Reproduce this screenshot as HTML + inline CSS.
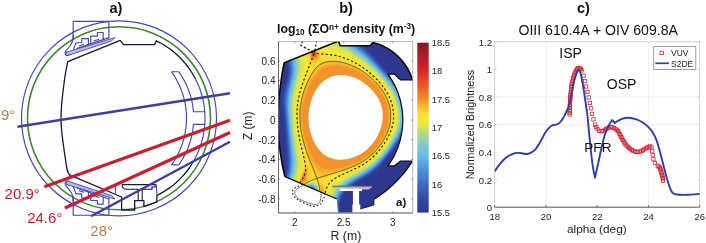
<!DOCTYPE html>
<html><head><meta charset="utf-8"><title>figure</title>
<style>
html,body{margin:0;padding:0;background:#fff;}
svg{display:block;filter:blur(0.3px);}
text{font-family:"Liberation Sans", Arial, sans-serif;}
</style></head><body>
<svg width="706" height="243" viewBox="0 0 706 243">
<rect width="706" height="243" fill="#fff"/>
<g id="panel-a">
<text x="116" y="13.2" font-size="14.5" font-weight="bold" text-anchor="middle" fill="#111">a)</text>
<circle cx="119.0" cy="118.3" r="97.5" fill="none" stroke="#4646b2" stroke-width="1.15"/>
<circle cx="119.0" cy="118.3" r="91.5" fill="none" stroke="#3b8a2e" stroke-width="1.6"/>
<path d="M73.2,40.0 L73.2,21.4 L108.9,21.4 L108.9,38.6" fill="none" stroke="#4646b2" stroke-width="1.15" stroke-linejoin="round"/>
<path d="M73.20,34.50C73.12,35.42 73.10,38.28 72.70,40.00C72.30,41.72 71.67,43.30 70.80,44.80C69.93,46.30 68.42,47.83 67.50,49.00C66.58,50.17 65.68,50.97 65.30,51.80C64.92,52.63 65.03,53.40 65.20,54.00C65.37,54.60 65.60,55.22 66.30,55.40C67.00,55.58 68.88,55.15 69.40,55.10" fill="none" stroke="#4646b2" stroke-width="1.15" stroke-linejoin="round"/>
<path d="M73.4,49.8 L76.0,42.7 L81.8,42.7 L81.8,38.6 L88.4,38.6 L88.4,44.6 L83.4,47.2" fill="none" stroke="#4646b2" stroke-width="1.15" stroke-linejoin="round"/>
<path d="M90.8,43.6 L90.8,36.1 L97.4,36.1 L97.4,32.5 L103.2,32.5 L103.2,39.6 L108.9,37.6" fill="none" stroke="#4646b2" stroke-width="1.15" stroke-linejoin="round"/>
<path d="M76.5,48.6 L88.4,44.6 L90.8,43.6 L103.2,39.6" fill="none" stroke="#4646b2" stroke-width="1.15" stroke-linejoin="round"/>
<path d="M79.0,46.0 L84.0,44.3" fill="none" stroke="#4646b2" stroke-width="1.15" stroke-linejoin="round"/>
<path d="M93.5,41.0 L99.0,39.2" fill="none" stroke="#4646b2" stroke-width="1.15" stroke-linejoin="round"/>
<path d="M73.2,196.6 L73.2,215.2 L108.9,215.2 L108.9,198.0" fill="none" stroke="#4646b2" stroke-width="1.15" stroke-linejoin="round"/>
<path d="M73.20,202.10C73.12,201.18 73.10,198.32 72.70,196.60C72.30,194.88 71.67,193.30 70.80,191.80C69.93,190.30 68.42,188.77 67.50,187.60C66.58,186.43 65.68,185.63 65.30,184.80C64.92,183.97 65.03,183.20 65.20,182.60C65.37,182.00 65.60,181.38 66.30,181.20C67.00,181.02 68.88,181.45 69.40,181.50" fill="none" stroke="#4646b2" stroke-width="1.15" stroke-linejoin="round"/>
<path d="M73.4,186.8 L76.0,193.9 L81.8,193.9 L81.8,198.0 L88.4,198.0 L88.4,192.0 L83.4,189.4" fill="none" stroke="#4646b2" stroke-width="1.15" stroke-linejoin="round"/>
<path d="M90.8,193.0 L90.8,200.5 L97.4,200.5 L97.4,204.1 L103.2,204.1 L103.2,197.0 L108.9,199.0" fill="none" stroke="#4646b2" stroke-width="1.15" stroke-linejoin="round"/>
<path d="M76.5,188.0 L88.4,192.0 L90.8,193.0 L103.2,197.0" fill="none" stroke="#4646b2" stroke-width="1.15" stroke-linejoin="round"/>
<path d="M79.0,190.6 L84.0,192.3" fill="none" stroke="#4646b2" stroke-width="1.15" stroke-linejoin="round"/>
<path d="M93.5,195.6 L99.0,197.4" fill="none" stroke="#4646b2" stroke-width="1.15" stroke-linejoin="round"/>
<path d="M65.6,52.4 L114.9,37.6 L111.6,41.0 L67.5,55.6Z" fill="#b9b9e6" stroke="#4646b2" stroke-width="0.9" stroke-linejoin="round"/>
<path d="M65.6,184.2 L114.9,199.0 L111.6,195.6 L67.5,181.0Z" fill="#b9b9e6" stroke="#4646b2" stroke-width="0.9" stroke-linejoin="round"/>
<path d="M171.5,71.7 L174.1,75.6 L176.4,79.5 L178.5,83.4 L180.2,87.2 L181.7,91.1 L183.0,95.0 L184.1,98.9 L185.0,102.8 L185.6,106.7 L186.1,110.5 L186.4,114.4 L186.5,118.3 L186.4,122.2 L186.1,126.1 L185.6,129.9 L185.0,133.8 L184.1,137.7 L183.0,141.6 L181.7,145.5 L180.2,149.4 L178.5,153.2 L176.4,157.1 L174.1,161.0 L171.5,164.9" fill="none" stroke="#4646b2" stroke-width="1.15"/>
<path d="M178.7,71.7 L179.9,73.4 L181.0,75.0 L182.0,76.7 L183.0,78.4 L183.9,80.0 L184.8,81.7 L185.7,83.4 L186.4,85.0 L187.2,86.7 L187.9,88.4 L188.5,90.0 L189.1,91.7 L189.7,93.4 L190.2,95.0 L190.7,96.7 L191.2,98.4 L191.6,100.0 L192.0,101.7 L192.3,103.4 L192.6,105.0 L192.9,106.7 L193.1,108.4 L193.3,110.0 L193.4,111.7 L205.3,111.7" fill="none" stroke="#4646b2" stroke-width="1.15"/>
<path d="M205.3,124.3 L193.5,124.3 L193.3,126.0 L193.1,127.7 L192.9,129.4 L192.7,131.1 L192.4,132.8 L192.1,134.4 L191.7,136.1 L191.3,137.8 L190.8,139.5 L190.3,141.2 L189.8,142.9 L189.2,144.6 L188.6,146.3 L188.0,148.0 L187.3,149.7 L186.5,151.4 L185.7,153.1 L184.9,154.8 L184.0,156.4 L183.1,158.1 L182.1,159.8 L181.0,161.5 L179.9,163.2 L178.7,164.9" fill="none" stroke="#4646b2" stroke-width="1.15"/>
<path d="M171.5,71.7 L178.7,71.7 M171.5,164.9 L178.7,164.9" fill="none" stroke="#4646b2" stroke-width="1.15"/>
<path d="M195.6,79.2 L197.2,82.6 L198.7,85.9 L200.0,89.3 L201.1,92.7 L202.1,96.0 L202.9,99.4 L203.6,102.8 L204.1,106.1 L204.5,109.5 L204.8,112.9 L205.0,116.2 L205.0,119.6 L204.9,123.0 L204.6,126.3 L204.2,129.7 L203.7,133.1 L203.1,136.4 L202.3,139.8 L201.3,143.2 L200.2,146.5 L199.0,149.9 L197.6,153.3 L196.0,156.6 L194.2,160.0" fill="none" stroke="#4646b2" stroke-width="1.15"/>
<path d="M195.6,79.2 L194.1,76.5 L192.5,73.7 L190.8,71.0 L188.9,68.2 L186.9,65.5 L184.6,62.7 L182.2,60.0 L179.6,57.3 L176.7,54.5 L173.5,51.8 L170.0,49.0 L166.0,46.3 L161.5,43.5 L156.3,40.8 L154.5,44.6 L123.6,44.6 L120.2,40.4 L67.7,61.7 L67.70,61.70C67.28,63.92 65.95,70.28 65.20,75.00C64.45,79.72 63.80,85.00 63.20,90.00C62.60,95.00 61.97,100.33 61.60,105.00C61.23,109.67 61.00,113.83 61.00,118.00C61.00,122.17 61.20,125.50 61.60,130.00C62.00,134.50 62.73,140.00 63.40,145.00C64.07,150.00 64.97,155.83 65.60,160.00C66.23,164.17 66.55,167.53 67.20,170.00C67.85,172.47 69.12,174.00 69.50,174.80 L121.6,197 L121.6,210 L134.7,210 L134.7,200.6 L143.9,200.6 L143.9,206.6 L156.9,202 L156.9,194.9 L158.1,194.9 L162.6,192.4 L166.6,189.9 L170.2,187.4 L173.4,184.9 L176.3,182.4 L179.0,179.9 L181.4,177.4 L183.7,175.0 L185.8,172.5 L187.7,170.0 L189.6,167.5 L191.2,165.0 L192.8,162.5 L194.2,160.0" fill="none" stroke="#16163c" stroke-width="1.3" stroke-linejoin="round"/>
<path d="M138.2,200.6 V189.3 H125 L122.3,187 V184.6 H155.2 V187 H152 V189.3 H142.2 V200.6" fill="none" stroke="#16163c" stroke-width="1.1"/>
<path d="M156.2,184 L156.9,194" fill="none" stroke="#4646b2" stroke-width="1.15"/>
<path d="M115.5,186 L115.5,193.5" fill="none" stroke="#4646b2" stroke-width="1.15"/>
<line x1="17.5" y1="126.8" x2="230" y2="93.3" stroke="#3e3e9e" stroke-width="2.4"/>
<line x1="91" y1="216.3" x2="230" y2="141.7" stroke="#3e3e9e" stroke-width="2.4"/>
<line x1="44.3" y1="186.7" x2="230" y2="120.3" stroke="#c5202f" stroke-width="3.3"/>
<line x1="64.9" y1="208" x2="230" y2="132.5" stroke="#c5202f" stroke-width="3.3"/>
<path d="M129.8,110.6 L131.2,108.6 M147.4,107.8 L148.8,105.6" stroke="#d03060" stroke-width="0.8" fill="none"/>
<text x="1" y="120" font-size="15" fill="#bd7a3a">9°</text>
<text x="4.6" y="199.4" font-size="15" fill="#c5202f">20.9°</text>
<text x="27.2" y="223.2" font-size="15" fill="#c5202f">24.6°</text>
<text x="90.3" y="235.5" font-size="15" fill="#bd7a3a">28°</text>
</g>
<g id="panel-b">
<text x="346" y="13.2" font-size="14.5" font-weight="bold" text-anchor="middle" fill="#111">b)</text>
<text x="277" y="33.2" font-size="12.3" font-weight="bold" fill="#111">log<tspan font-size="8.2" dy="2.2">10</tspan><tspan dy="-2.2"> (ΣO</tspan><tspan font-size="8.2" dy="-3.6">n+</tspan><tspan dy="3.6"> density (m</tspan><tspan font-size="8.2" dy="-3.8">-3</tspan><tspan dy="3.8">)</tspan></text>
<defs><clipPath id="vesclip"><path d="M285.0,176.7 L282.4,165.3 L280.3,153.0 L279.1,142.0 L278.3,130.0 L278.0,120.0 L278.3,108.0 L279.2,96.0 L280.6,84.0 L282.2,73.0 L284.2,62.8 L338.6,41.0 L340.2,45.7 L370.3,45.7 L372.8,42.4 L376.2,43.4 L379.6,44.6 L382.9,46.0 L386.1,47.6 L389.2,49.4 L392.1,51.4 L394.9,53.6 L397.6,56.0 L400.1,58.5 L402.5,61.2 L404.6,64.1 L406.6,67.0 L408.4,70.1 L410.0,73.3 L411.3,76.6 L412.5,80.0 L400.5,80.0 L394.6,74.2 L388.0,74.2 L390.3,77.6 L392.4,81.0 L394.4,84.6 L396.1,88.3 L397.7,92.1 L399.0,95.9 L400.2,99.8 L401.1,103.8 L401.8,107.8 L402.4,111.9 L402.7,115.9 L402.8,120.0 L402.7,124.1 L402.4,128.1 L401.8,132.2 L401.1,136.2 L400.2,140.2 L399.0,144.1 L397.7,147.9 L396.1,151.7 L394.4,155.4 L392.4,159.0 L390.3,162.4 L388.0,165.8 L394.6,165.8 L400.5,161.0 L412.5,161.0 L410.6,163.9 L408.7,166.7 L406.7,169.5 L404.6,172.2 L402.4,174.8 L400.1,177.4 L397.8,179.9 L395.4,182.4 L392.9,184.8 L390.4,187.1 L387.8,189.3 L385.1,191.5 L382.4,193.5 L379.6,195.5 L376.8,197.5 L373.9,199.3 L373.9,204.9 L360.3,208.9 L360.3,212.7 L338.0,212.7 L336.9,199.0Z"/></clipPath><clipPath id="axclip"><rect x="278.5" y="41.5" width="134.3" height="171.5"/></clipPath>
<filter id="bl1" x="-20%" y="-20%" width="140%" height="140%"><feGaussianBlur stdDeviation="0.7"/></filter>
<filter id="bl3" x="-50%" y="-50%" width="200%" height="200%"><feGaussianBlur stdDeviation="2.2"/></filter>
<filter id="bl2" x="-50%" y="-50%" width="200%" height="200%"><feGaussianBlur stdDeviation="1.4"/></filter>
</defs>
<g clip-path="url(#axclip)">
<g clip-path="url(#vesclip)">
<path d="M285.0,176.7 L282.4,165.3 L280.3,153.0 L279.1,142.0 L278.3,130.0 L278.0,120.0 L278.3,108.0 L279.2,96.0 L280.6,84.0 L282.2,73.0 L284.2,62.8 L338.6,41.0 L340.2,45.7 L370.3,45.7 L372.8,42.4 L376.2,43.4 L379.6,44.6 L382.9,46.0 L386.1,47.6 L389.2,49.4 L392.1,51.4 L394.9,53.6 L397.6,56.0 L400.1,58.5 L402.5,61.2 L404.6,64.1 L406.6,67.0 L408.4,70.1 L410.0,73.3 L411.3,76.6 L412.5,80.0 L400.5,80.0 L394.6,74.2 L388.0,74.2 L390.3,77.6 L392.4,81.0 L394.4,84.6 L396.1,88.3 L397.7,92.1 L399.0,95.9 L400.2,99.8 L401.1,103.8 L401.8,107.8 L402.4,111.9 L402.7,115.9 L402.8,120.0 L402.7,124.1 L402.4,128.1 L401.8,132.2 L401.1,136.2 L400.2,140.2 L399.0,144.1 L397.7,147.9 L396.1,151.7 L394.4,155.4 L392.4,159.0 L390.3,162.4 L388.0,165.8 L394.6,165.8 L400.5,161.0 L412.5,161.0 L410.6,163.9 L408.7,166.7 L406.7,169.5 L404.6,172.2 L402.4,174.8 L400.1,177.4 L397.8,179.9 L395.4,182.4 L392.9,184.8 L390.4,187.1 L387.8,189.3 L385.1,191.5 L382.4,193.5 L379.6,195.5 L376.8,197.5 L373.9,199.3 L373.9,204.9 L360.3,208.9 L360.3,212.7 L338.0,212.7 L336.9,199.0Z" fill="#2e388e"/>
<g filter="url(#bl1)">
<path d="M276.0,38.0 354.9,38.0 358.0,41.0 365.5,46.7 369.6,50.5 372.7,54.0 378.9,62.0 384.0,68.0 395.7,80.5 398.2,83.5 401.2,88.0 403.3,92.0 404.7,95.5 406.3,100.5 407.8,106.0 409.2,112.5 409.8,116.5 409.9,120.5 409.7,124.0 408.7,127.5 407.2,131.0 405.8,133.5 402.8,138.0 390.2,155.0 382.7,164.5 379.0,168.4 376.0,171.2 370.5,175.3 357.9,182.5 352.6,186.0 349.4,188.5 345.5,192.5 344.0,194.5 342.5,197.1 341.5,199.3 340.5,202.5 340.0,205.5 339.9,209.0 340.0,211.9 340.6,216.0 329.7,216.0 327.8,215.0 326.3,214.5 324.0,214.3 323.0,214.3 321.5,214.8 319.6,216.0 308.4,216.0 307.0,214.2 304.9,212.5 302.5,211.5 299.5,211.1 297.0,211.5 294.5,212.5 291.5,214.5 289.9,216.0 286.1,216.0 287.0,214.2 287.2,213.5 287.5,213.2 287.6,212.5 288.1,212.0 288.1,211.5 288.5,210.8 288.6,210.0 289.0,209.5 289.2,208.5 289.6,207.5 290.0,205.5 290.2,203.5 290.0,202.1 289.5,200.6 288.8,199.5 287.5,198.4 285.9,197.5 284.3,197.0 280.5,196.7 276.5,197.0 276.0,197.2 276.0,189.6 278.5,187.0 280.5,184.5 283.0,180.3 284.0,178.0 285.0,174.8 285.5,172.5 286.1,168.5 286.2,163.5 286.1,157.5 284.5,128.0 283.6,117.5 281.8,104.0 281.6,98.5 281.7,95.5 282.3,92.0 286.6,77.5 287.5,71.7 287.6,69.5 287.5,67.0 287.0,64.0 286.0,61.0 284.6,58.5 282.9,56.5 280.6,54.5 276.0,51.5ZM308.0,188.5 306.0,189.2 305.0,189.9 304.0,191.0 302.9,193.0 302.8,194.0 302.9,195.5 303.3,196.5 303.9,197.5 305.8,199.0 307.5,199.6 310.5,199.6 312.5,198.7 313.7,197.5 314.5,195.5 314.7,194.5 314.6,193.0 313.8,191.0 313.0,190.0 312.0,189.2 310.0,188.4ZM397.2,201.5 399.0,199.6 400.5,198.7 401.5,198.2 404.0,197.6 409.5,197.7 414.0,198.7 416.0,199.5 416.0,216.0 395.3,216.0 394.8,212.0 394.8,208.5 395.2,206.0 396.2,203.0Z" fill="#303f97" fill-rule="evenodd"/>
<path d="M276.0,38.0 293.4,38.0 295.5,38.4 297.9,38.0 353.9,38.0 357.4,41.5 365.6,48.0 369.5,51.6 372.5,55.0 382.4,67.0 395.3,81.0 398.1,84.5 400.4,88.0 402.2,91.5 404.1,96.0 405.8,101.5 407.5,108.0 408.6,113.5 409.0,118.0 409.0,121.5 408.5,125.0 407.4,128.5 405.7,132.0 403.6,135.5 400.9,139.5 390.3,154.0 384.0,162.1 379.0,167.6 375.3,171.0 371.0,174.2 367.0,176.7 357.0,182.4 352.0,185.7 348.0,189.0 344.8,192.5 343.1,195.0 341.7,197.5 340.7,200.0 339.9,203.0 339.5,206.0 339.5,209.0 339.7,212.0 340.3,216.0 329.8,216.0 328.0,215.0 326.5,214.4 324.0,214.1 323.0,214.2 321.5,214.7 319.4,216.0 308.7,216.0 307.0,213.7 305.0,212.2 302.5,211.2 300.0,210.8 298.0,211.0 295.0,212.0 292.0,213.9 289.7,216.0 286.1,216.0 286.5,215.5 288.5,211.0 290.0,206.0 290.2,203.0 290.0,201.6 289.6,200.5 288.9,199.5 287.5,198.2 286.1,197.5 284.5,197.0 280.5,196.5 276.0,197.1 276.0,189.9 280.2,185.5 282.0,183.0 283.4,180.5 284.5,178.0 285.5,175.0 286.2,172.0 286.7,168.5 286.9,164.5 286.9,159.5 285.3,131.5 284.5,121.0 282.7,105.0 282.4,99.0 282.6,95.5 283.3,91.5 286.5,80.4 287.5,76.0 288.1,72.5 288.2,69.5 288.1,66.5 287.5,63.5 286.6,61.0 285.2,58.5 283.6,56.5 281.9,55.0 279.8,53.5 276.0,51.2ZM307.0,188.6 305.0,189.7 303.5,191.5 302.7,193.5 302.7,195.0 302.9,196.0 303.4,197.0 304.2,198.0 306.0,199.2 307.5,199.7 310.0,199.8 311.3,199.5 313.0,198.4 313.8,197.5 314.4,196.5 314.8,194.5 314.7,193.0 314.5,192.0 313.3,190.0 311.5,188.7 309.5,188.2 308.0,188.3ZM397.6,201.5 399.0,200.0 400.5,199.0 402.0,198.4 404.5,197.8 407.0,197.7 409.5,197.9 413.5,198.7 416.0,199.6 416.0,216.0 395.4,216.0 394.9,211.0 395.2,207.0 396.3,203.5Z" fill="#32449d" fill-rule="evenodd"/>
<path d="M276.0,38.0 292.8,38.0 294.0,38.5 295.5,38.7 297.0,38.5 298.5,38.0 353.0,38.0 354.5,39.8 356.5,41.8 365.5,49.0 369.5,52.8 382.1,67.5 394.0,80.5 397.2,84.5 399.6,88.0 401.7,92.0 403.5,96.5 405.3,102.0 406.8,108.0 407.8,113.5 408.2,118.0 408.2,121.5 407.6,125.0 406.5,128.5 404.9,132.0 400.6,139.0 391.6,151.5 384.5,160.7 379.0,166.8 375.0,170.5 370.5,173.8 366.5,176.3 356.5,182.1 351.5,185.4 347.2,189.0 344.1,192.5 342.4,195.0 341.1,197.5 340.2,200.0 339.5,202.7 339.2,205.5 339.1,208.5 339.5,212.5 340.1,216.0 330.0,216.0 327.0,214.5 325.5,214.1 324.0,214.0 322.5,214.2 321.5,214.5 319.3,216.0 308.9,216.0 307.5,213.9 305.5,212.2 303.0,211.1 300.0,210.6 297.1,211.0 294.6,212.0 292.0,213.8 289.6,216.0 286.1,216.0 287.0,214.5 288.5,211.0 290.0,206.4 290.3,203.0 290.1,201.5 289.7,200.5 289.1,199.5 288.0,198.4 286.4,197.5 284.5,196.9 280.5,196.4 276.0,197.0 276.0,190.2 278.3,188.0 280.5,185.6 282.4,183.0 283.9,180.5 285.3,177.5 286.1,175.0 286.8,172.0 287.3,168.5 287.6,164.5 287.5,159.5 286.0,133.5 285.1,122.0 283.4,105.5 283.1,99.5 283.4,96.0 283.8,93.0 284.7,89.0 287.9,77.5 288.6,73.5 288.9,69.5 288.7,66.5 288.1,63.5 287.3,61.0 285.9,58.5 284.3,56.5 282.6,55.0 279.6,53.0 276.0,51.0ZM306.5,188.6 304.5,190.0 303.0,192.0 302.6,193.0 302.5,194.5 303.0,196.5 303.6,197.5 304.7,198.5 307.0,199.7 309.5,200.0 311.0,199.7 312.0,199.3 313.6,198.0 314.7,196.0 315.0,193.5 314.7,192.0 314.2,191.0 313.0,189.4 312.0,188.7 311.0,188.3 309.0,188.0 307.5,188.2ZM397.9,201.5 399.4,200.0 401.0,199.0 403.0,198.3 405.0,197.9 407.5,197.8 410.5,198.2 413.0,198.7 416.0,199.7 416.0,216.0 395.5,216.0 395.1,212.0 395.3,208.0 396.1,204.5 397.1,202.5Z" fill="#3449a4" fill-rule="evenodd"/>
<path d="M276.0,38.0 292.3,38.0 293.5,38.6 295.5,39.0 297.5,38.6 298.9,38.0 352.1,38.0 354.0,40.3 356.2,42.5 365.5,50.0 369.5,53.8 381.9,68.0 393.7,81.0 397.3,85.5 399.2,88.5 401.3,92.5 402.7,96.0 404.7,102.0 406.2,108.0 407.2,113.5 407.5,118.0 407.4,122.0 406.7,125.5 405.8,128.5 404.2,132.0 402.2,135.5 399.6,139.5 390.7,152.0 383.6,161.0 378.5,166.6 374.5,170.2 370.5,173.2 366.5,175.7 356.5,181.5 351.9,184.5 347.0,188.5 343.8,192.0 342.0,194.7 340.5,197.7 339.5,200.7 339.0,203.2 338.8,206.0 338.9,209.5 339.9,216.0 330.1,216.0 327.0,214.4 325.5,214.0 324.0,213.9 322.5,214.0 321.5,214.4 320.5,214.9 319.1,216.0 309.1,216.0 307.5,213.6 305.5,212.0 303.0,210.9 301.5,210.5 300.0,210.4 298.5,210.5 296.5,211.0 294.5,211.9 291.6,214.0 289.5,216.0 286.2,216.0 287.0,214.5 288.6,211.0 290.2,206.0 290.4,204.0 290.4,202.5 290.1,201.0 289.6,200.0 288.9,199.0 287.6,198.0 286.0,197.2 284.5,196.8 282.5,196.5 280.5,196.4 276.0,196.9 276.0,190.4 278.7,188.0 281.0,185.5 282.5,183.5 284.5,180.3 285.6,178.0 286.6,175.0 287.5,171.3 288.0,167.5 288.2,162.5 288.0,156.5 286.1,127.5 284.2,108.5 283.8,100.0 284.4,93.5 285.3,89.5 288.6,77.0 289.1,74.0 289.4,69.5 289.2,65.5 288.6,63.0 287.7,60.5 286.5,58.4 284.9,56.5 282.6,54.5 280.2,53.0 276.0,50.8ZM307.5,188.1 306.0,188.7 305.0,189.3 303.4,191.0 302.8,192.0 302.4,193.5 302.5,195.5 302.8,196.5 303.5,197.5 304.5,198.5 305.5,199.2 307.0,199.8 308.5,200.1 311.0,199.8 313.0,198.8 313.8,198.0 314.5,197.0 314.9,196.0 315.1,194.5 314.8,192.0 313.8,190.0 313.0,189.2 312.0,188.5 310.0,187.8 309.0,187.8ZM416.0,199.7 416.0,216.0 395.6,216.0 395.2,211.0 395.3,209.0 395.7,206.5 396.3,204.5 397.4,202.5 399.5,200.2 401.0,199.2 402.5,198.6 404.0,198.2 406.5,198.0 410.5,198.3 413.0,198.8Z" fill="#3651ac" fill-rule="evenodd"/>
<path d="M276.0,38.0 292.0,38.0 293.5,38.8 295.5,39.2 297.5,38.8 299.2,38.0 351.4,38.0 353.4,40.5 355.5,42.6 365.0,50.3 369.5,54.5 381.4,68.0 392.3,80.0 395.6,84.0 398.3,88.0 400.7,92.5 402.6,97.0 404.3,102.5 405.8,108.5 406.6,113.5 407.0,118.0 406.8,122.0 406.1,125.5 405.0,129.0 403.4,132.5 401.4,136.0 398.8,140.0 391.0,151.0 384.0,160.0 378.5,166.1 374.5,169.7 370.0,173.0 366.0,175.6 355.8,181.5 351.0,184.7 346.9,188.0 343.5,191.8 341.7,194.5 340.4,197.0 339.5,199.5 338.8,202.5 338.5,205.5 338.5,208.5 339.0,212.0 339.8,216.0 330.2,216.0 328.5,214.9 327.0,214.3 325.5,213.9 324.0,213.7 322.5,213.9 321.5,214.2 320.0,215.1 319.0,216.0 309.3,216.0 307.7,213.5 305.5,211.7 304.0,211.0 302.5,210.5 300.0,210.2 297.6,210.5 295.0,211.5 292.0,213.5 289.4,216.0 286.2,216.0 288.6,211.0 290.2,206.0 290.5,204.0 290.5,202.5 290.2,201.0 289.8,200.0 289.1,199.0 287.9,198.0 286.5,197.3 284.5,196.7 280.5,196.3 276.0,196.9 276.0,190.6 279.0,188.0 280.9,186.0 282.9,183.5 284.5,181.0 286.0,178.0 287.0,175.0 287.8,172.0 288.4,168.5 288.7,163.0 288.4,156.0 286.4,127.0 284.6,107.0 284.3,100.5 284.6,96.5 285.1,93.0 289.0,77.5 289.6,73.5 289.9,69.5 289.7,66.0 289.1,63.0 288.2,60.5 286.7,58.0 285.0,56.0 283.1,54.5 280.7,53.0 276.0,50.7ZM306.5,188.2 305.0,189.1 304.0,190.0 302.7,192.0 302.2,193.5 302.2,194.5 302.7,196.5 303.3,197.5 304.3,198.5 306.5,199.7 308.0,200.1 309.5,200.2 311.0,199.9 312.0,199.6 313.0,199.0 314.0,198.0 315.0,196.0 315.3,193.5 314.7,191.0 314.0,189.9 313.1,189.0 312.0,188.2 311.0,187.8 309.0,187.6ZM398.0,202.0 399.5,200.4 401.0,199.4 402.5,198.8 405.0,198.2 407.5,198.1 410.0,198.3 412.5,198.8 416.0,199.8 416.0,216.0 395.7,216.0 395.3,211.5 395.5,208.0 396.3,205.0 397.0,203.5Z" fill="#385ab5" fill-rule="evenodd"/>
<path d="M276.0,38.0 291.7,38.0 293.5,39.1 295.5,39.4 297.5,39.0 299.5,38.0 350.8,38.0 352.6,40.5 355.0,42.9 365.0,51.1 369.5,55.3 391.8,80.0 395.4,84.5 398.1,88.5 400.2,92.5 402.3,97.5 404.0,103.0 405.3,108.5 406.1,113.5 406.4,118.0 406.2,122.0 405.6,125.5 404.4,129.0 402.6,133.0 398.0,140.5 390.2,151.5 383.5,160.1 378.0,166.0 374.0,169.6 369.5,172.9 355.5,181.2 350.6,184.5 346.4,188.0 343.2,191.5 341.5,194.0 340.0,197.0 339.1,199.5 338.4,202.5 338.2,205.5 338.3,208.5 338.8,212.0 339.6,216.0 330.4,216.0 328.5,214.8 327.0,214.2 325.5,213.7 324.0,213.6 322.5,213.8 321.5,214.1 320.0,215.0 318.9,216.0 309.5,216.0 308.0,213.6 306.0,211.8 304.5,211.0 303.0,210.4 300.0,210.0 297.5,210.4 294.7,211.5 292.0,213.4 289.3,216.0 286.2,216.0 288.7,211.0 290.3,206.0 290.6,204.0 290.7,202.5 290.4,201.0 290.0,200.0 289.3,199.0 288.0,197.9 286.5,197.2 284.5,196.6 280.5,196.3 276.0,196.8 276.0,190.8 278.7,188.5 281.2,186.0 283.3,183.5 284.9,181.0 286.4,178.0 287.5,175.0 288.2,172.0 288.8,168.5 289.1,163.0 288.9,156.5 286.8,127.5 285.1,108.0 284.8,101.0 285.0,97.0 285.5,93.5 286.4,89.5 289.4,77.5 290.1,73.5 290.4,69.5 290.2,66.0 289.6,63.0 288.5,60.0 286.9,57.5 285.0,55.5 282.9,54.0 276.0,50.5ZM308.5,187.5 306.0,188.3 303.8,190.0 303.0,191.1 302.3,192.5 302.1,193.5 302.0,195.0 302.8,197.0 303.6,198.0 304.8,199.0 306.0,199.6 307.5,200.1 310.0,200.2 312.4,199.5 314.2,198.0 314.8,197.0 315.3,195.5 315.4,193.0 314.6,190.5 313.9,189.5 313.0,188.6 311.0,187.6 310.0,187.4ZM398.0,202.2 399.5,200.6 401.0,199.6 403.0,198.8 405.0,198.3 407.5,198.2 410.0,198.4 412.5,198.8 416.0,199.9 416.0,216.0 395.8,216.0 395.4,211.5 395.6,208.0 396.4,205.0Z" fill="#3a63bd" fill-rule="evenodd"/>
<path d="M276.0,38.0 291.4,38.0 293.5,39.3 295.5,39.6 297.5,39.2 299.7,38.0 350.1,38.0 351.9,40.5 354.3,43.0 364.7,51.5 369.5,56.0 390.8,79.5 394.5,84.0 397.3,88.0 399.7,92.5 401.8,97.5 403.4,102.5 404.8,108.5 405.6,113.5 405.9,118.0 405.7,122.0 404.9,126.0 403.7,129.5 401.8,133.5 397.2,141.0 389.8,151.5 383.5,159.5 378.0,165.5 374.0,169.1 369.5,172.4 365.0,175.3 355.1,181.0 350.5,184.1 346.0,187.8 342.7,191.5 341.0,194.1 339.6,197.0 338.6,200.0 338.1,202.5 337.9,205.5 338.0,208.5 338.6,212.0 339.4,216.0 330.5,216.0 328.5,214.7 327.0,214.0 325.5,213.6 324.0,213.5 322.5,213.6 321.0,214.2 320.0,214.8 318.7,216.0 309.7,216.0 308.2,213.5 306.0,211.6 304.5,210.8 303.0,210.3 300.0,209.9 297.0,210.3 294.5,211.5 292.0,213.3 289.2,216.0 286.3,216.0 288.7,211.0 290.4,206.0 290.8,202.5 290.5,201.0 290.2,200.0 289.5,199.0 288.3,198.0 287.0,197.3 285.0,196.6 283.0,196.3 280.5,196.2 276.0,196.8 276.0,191.0 279.0,188.5 281.5,186.0 283.6,183.5 285.2,181.0 286.8,178.0 287.9,175.0 288.8,171.5 289.3,168.0 289.6,163.0 289.4,156.5 287.4,129.5 285.6,109.0 285.3,101.0 285.6,97.0 286.0,93.5 290.0,77.1 290.6,73.0 290.9,69.0 290.6,65.5 290.0,62.5 289.0,60.0 287.5,57.5 285.6,55.5 283.5,54.0 280.7,52.5 276.0,50.3ZM307.0,187.7 305.5,188.4 304.5,189.1 302.9,191.0 302.3,192.0 301.9,193.5 301.9,195.0 302.1,196.0 302.6,197.0 303.4,198.0 304.7,199.0 306.0,199.7 307.5,200.2 309.0,200.4 310.5,200.3 312.0,199.8 313.0,199.3 314.0,198.5 315.2,196.5 315.7,194.0 315.5,192.5 315.1,191.0 313.8,189.0 312.0,187.7 311.0,187.4 309.5,187.2ZM398.0,202.5 399.3,201.0 401.0,199.8 403.0,198.9 405.0,198.5 407.0,198.3 409.5,198.4 412.5,198.9 416.0,199.9 416.0,216.0 395.8,216.0 395.5,211.5 395.8,208.0 396.6,205.0Z" fill="#3d6cc5" fill-rule="evenodd"/>
<path d="M276.0,38.0 291.1,38.0 292.5,39.1 293.5,39.5 295.5,39.9 297.5,39.4 299.9,38.0 349.4,38.0 351.1,40.5 354.0,43.5 364.5,52.1 369.5,56.7 390.3,79.5 394.0,84.0 397.1,88.5 399.5,93.0 401.5,98.0 403.1,103.0 404.5,109.0 405.2,114.0 405.4,118.5 405.1,122.5 404.4,126.0 403.2,129.5 401.3,133.5 397.1,140.5 390.1,150.5 383.5,159.0 378.0,165.0 374.0,168.6 369.5,172.0 365.0,174.8 354.5,181.0 349.9,184.0 345.7,187.5 342.5,191.1 340.9,193.5 339.4,196.5 338.3,199.5 337.8,202.5 337.6,205.5 337.8,208.5 338.4,212.0 339.3,216.0 330.6,216.0 327.5,214.1 325.5,213.5 324.0,213.3 322.5,213.5 321.0,214.1 320.0,214.7 318.6,216.0 309.8,216.0 308.4,213.5 307.5,212.5 306.0,211.4 304.5,210.6 303.0,210.1 300.0,209.7 297.0,210.2 294.5,211.3 292.0,213.2 289.1,216.0 286.3,216.0 288.7,211.0 290.3,206.5 290.9,203.0 290.8,201.5 290.3,200.0 289.7,199.0 288.5,197.9 287.0,197.1 285.0,196.5 283.0,196.2 280.5,196.1 276.0,196.8 276.0,191.2 278.7,189.0 281.4,186.5 283.6,184.0 285.3,181.5 286.9,178.5 288.1,175.5 289.1,172.0 289.7,168.5 290.1,163.5 289.9,157.0 286.1,110.0 285.8,101.5 286.0,98.0 286.5,94.0 287.4,89.5 290.5,76.9 291.2,72.5 291.3,69.0 291.1,65.5 290.3,62.0 289.3,59.5 287.6,57.0 286.2,55.5 284.0,53.9 281.3,52.5 276.0,50.2ZM309.5,187.0 307.0,187.5 305.5,188.2 304.4,189.0 303.4,190.0 302.4,191.5 301.8,193.0 301.7,194.0 301.8,195.5 302.2,196.5 302.8,197.5 303.8,198.5 306.0,199.8 307.5,200.3 309.0,200.5 310.5,200.4 312.0,200.0 313.0,199.5 314.0,198.7 314.9,197.5 315.4,196.5 315.9,194.0 315.7,192.5 315.3,191.0 314.0,188.9 313.0,188.0 312.0,187.4 311.0,187.1ZM416.0,200.0 416.0,216.0 395.9,216.0 395.6,211.0 395.8,208.5 396.2,206.5 396.9,204.5 397.8,203.0 399.0,201.5 400.0,200.6 401.5,199.7 403.0,199.1 404.5,198.7 407.0,198.4 411.5,198.8Z" fill="#4078cc" fill-rule="evenodd"/>
<path d="M276.0,38.0 290.9,38.0 293.0,39.6 295.0,40.1 296.0,40.0 297.5,39.6 300.1,38.0 348.7,38.0 350.8,41.0 353.5,43.8 364.5,52.7 369.5,57.4 389.8,79.5 393.5,84.0 396.6,88.5 399.0,93.0 401.1,98.0 402.6,103.0 403.9,108.5 404.7,113.5 404.9,118.0 404.7,122.0 404.0,125.5 402.7,129.5 400.9,133.5 396.4,141.0 389.4,151.0 383.0,159.1 377.5,165.0 373.5,168.6 369.0,171.9 364.5,174.7 354.5,180.5 349.5,183.9 345.2,187.5 342.1,191.0 340.4,193.5 339.0,196.5 338.0,199.5 337.4,202.5 337.3,205.5 337.5,208.5 338.2,212.0 339.1,216.0 330.8,216.0 329.0,214.8 327.0,213.8 325.5,213.4 324.0,213.2 322.5,213.3 321.0,213.9 319.5,215.0 318.5,216.0 310.0,216.0 308.5,213.4 307.5,212.3 306.0,211.2 303.0,209.9 300.0,209.5 297.5,209.9 294.5,211.2 292.0,213.0 289.1,216.0 286.3,216.0 289.2,210.0 290.7,205.5 291.0,203.5 291.0,202.0 290.7,200.5 290.2,199.5 289.4,198.5 288.1,197.5 286.5,196.8 285.0,196.4 283.0,196.1 280.5,196.1 276.0,196.7 276.0,191.3 279.0,189.0 281.7,186.5 283.9,184.0 285.7,181.5 287.3,178.5 288.5,175.5 289.5,172.0 290.2,168.5 290.5,163.5 290.3,157.0 286.6,111.5 286.2,102.0 286.4,98.0 286.9,94.0 287.9,89.5 290.9,77.0 291.6,73.0 291.8,69.0 291.6,65.5 290.8,62.0 289.8,59.5 288.2,57.0 286.2,55.0 283.9,53.5 276.0,50.1ZM307.5,187.1 305.0,188.3 304.0,189.1 302.8,190.5 302.2,191.5 301.6,193.0 301.5,194.5 301.6,195.5 302.3,197.0 303.1,198.0 304.3,199.0 305.5,199.7 307.0,200.3 308.5,200.6 310.0,200.6 311.5,200.3 313.0,199.6 313.9,199.0 314.8,198.0 315.4,197.0 316.0,194.5 316.0,193.0 315.7,191.5 314.5,189.1 313.5,188.1 312.5,187.4 311.5,187.0 310.0,186.7ZM416.0,200.0 416.0,216.0 396.0,216.0 395.7,211.0 395.9,208.5 396.3,206.5 397.0,204.7 398.0,203.0 400.0,200.8 401.5,199.8 403.0,199.2 404.5,198.8 407.0,198.5 411.5,198.9Z" fill="#4383d3" fill-rule="evenodd"/>
<path d="M276.0,38.0 290.7,38.0 292.0,39.2 293.0,39.8 295.0,40.3 296.5,40.2 297.5,39.8 300.3,38.0 348.0,38.0 350.0,41.0 352.9,44.0 364.5,53.4 369.5,58.0 388.9,79.0 393.0,84.0 396.1,88.5 398.8,93.5 400.8,98.5 402.4,103.5 403.6,109.0 404.3,114.0 404.5,118.5 404.1,122.5 403.4,126.0 402.0,130.0 400.1,134.0 395.6,141.5 389.0,151.0 383.0,158.6 377.5,164.6 373.5,168.1 368.9,171.5 364.5,174.3 354.0,180.4 349.0,183.8 345.0,187.1 341.6,191.0 340.0,193.5 338.5,196.5 337.6,199.5 337.1,202.5 337.0,205.5 337.3,208.5 337.8,211.5 339.0,216.0 330.9,216.0 329.0,214.7 327.5,213.9 325.5,213.2 324.0,213.1 322.5,213.2 321.0,213.8 319.5,214.8 318.4,216.0 310.2,216.0 308.8,213.5 308.0,212.5 306.5,211.2 305.0,210.4 303.5,209.8 300.5,209.3 297.5,209.7 295.0,210.7 292.0,212.9 289.0,216.0 286.4,216.0 289.2,210.0 290.7,205.5 291.1,203.5 291.1,202.0 290.9,200.5 290.4,199.5 289.7,198.5 288.4,197.5 287.0,196.9 285.0,196.3 283.0,196.0 280.5,196.0 276.0,196.7 276.0,191.5 279.2,189.0 282.0,186.5 284.3,184.0 286.1,181.5 287.7,178.5 289.0,175.5 290.0,172.0 290.6,168.5 291.0,163.5 290.8,157.5 287.2,114.0 286.7,107.5 286.7,102.5 286.9,98.0 287.4,94.0 288.3,89.5 291.4,77.0 292.1,72.5 292.3,69.0 292.0,65.5 291.3,62.0 290.1,59.0 288.4,56.5 286.9,55.0 284.5,53.5 276.0,49.9ZM310.5,186.5 309.0,186.5 307.5,186.9 305.0,188.1 303.5,189.4 302.6,190.5 301.8,192.0 301.4,193.0 301.3,194.5 301.4,195.5 301.8,196.5 302.4,197.5 304.5,199.3 306.0,200.0 307.5,200.5 309.0,200.7 310.5,200.6 312.0,200.3 313.0,199.8 314.1,199.0 315.0,198.0 315.6,197.0 316.1,195.5 316.2,194.0 316.1,192.5 315.8,191.0 315.1,189.5 314.0,188.1 313.0,187.4 312.0,186.9ZM398.5,202.5 400.0,201.0 401.5,200.0 403.5,199.2 405.5,198.7 408.0,198.6 410.5,198.8 413.5,199.4 416.0,200.1 416.0,216.0 396.0,216.0 395.7,212.0 396.0,208.5 397.0,205.0Z" fill="#478eda" fill-rule="evenodd"/>
<path d="M276.0,38.0 290.5,38.0 292.5,39.8 293.5,40.3 295.0,40.6 296.5,40.4 298.0,39.8 300.5,38.0 347.3,38.0 349.2,41.0 352.5,44.4 364.5,54.1 370.0,59.2 388.4,79.0 392.9,84.5 396.0,89.0 398.5,93.8 400.5,98.9 401.9,103.5 403.0,108.2 403.8,114.0 404.0,118.5 403.6,122.5 402.9,126.0 401.5,130.1 399.4,134.5 395.0,141.8 388.9,150.5 383.0,158.1 380.0,161.5 377.1,164.5 373.1,168.0 369.0,171.0 363.5,174.5 353.5,180.3 349.0,183.3 344.5,187.0 342.6,189.0 341.1,191.0 339.2,194.0 338.1,196.5 337.2,199.5 336.8,202.5 336.7,205.5 337.1,209.0 338.8,216.0 331.0,216.0 329.5,214.9 327.5,213.8 325.5,213.1 324.0,212.9 322.5,213.1 321.0,213.6 319.5,214.6 318.2,216.0 310.3,216.0 309.0,213.4 307.0,211.4 306.0,210.7 304.0,209.8 302.0,209.3 300.5,209.1 298.0,209.4 295.5,210.3 294.0,211.2 292.0,212.8 288.9,216.0 286.4,216.0 289.3,210.0 290.8,205.5 291.3,202.0 291.1,200.5 290.7,199.5 289.9,198.5 288.7,197.5 287.0,196.7 285.0,196.2 283.0,195.9 280.5,195.9 276.0,196.6 276.0,191.7 280.2,188.5 282.4,186.5 284.7,184.0 286.8,181.0 288.4,178.0 289.7,174.5 290.6,171.0 291.1,168.0 291.4,163.5 291.3,157.5 287.6,114.0 287.1,103.0 287.4,98.0 288.0,93.4 291.9,77.0 292.4,73.5 292.7,69.0 292.4,64.5 291.7,61.5 290.4,58.5 288.6,56.0 286.9,54.5 285.0,53.3 276.0,49.8ZM308.5,186.4 307.0,186.8 305.5,187.6 304.0,188.7 303.0,189.7 302.1,191.0 301.4,192.5 301.1,194.0 301.1,195.0 301.6,196.5 302.2,197.5 303.2,198.5 304.6,199.5 306.5,200.3 308.0,200.7 309.5,200.8 311.0,200.7 312.5,200.2 313.5,199.7 314.4,199.0 315.2,198.0 316.0,196.5 316.3,195.0 316.4,193.5 316.3,192.0 315.4,189.5 314.5,188.3 313.5,187.4 312.5,186.8 311.0,186.3ZM398.5,202.7 400.0,201.2 401.5,200.2 403.0,199.5 405.5,198.9 408.0,198.7 410.5,198.9 413.5,199.4 416.0,200.2 416.0,216.0 396.1,216.0 395.8,212.0 396.1,208.5 397.0,205.3Z" fill="#4d9ade" fill-rule="evenodd"/>
<path d="M276.0,38.0 290.2,38.0 291.5,39.4 292.5,40.2 293.5,40.7 295.0,40.9 296.0,40.8 297.5,40.3 299.0,39.4 300.7,38.0 346.4,38.0 347.9,40.5 350.5,43.5 354.5,47.0 364.0,54.4 368.5,58.4 375.5,65.6 387.4,78.5 392.0,84.0 395.1,88.5 397.8,93.5 399.9,98.5 401.4,103.5 402.7,109.0 403.3,114.0 403.5,118.5 403.1,122.5 402.2,126.5 400.8,130.5 398.9,134.5 394.4,142.0 388.1,151.0 382.5,158.1 377.0,164.0 373.0,167.5 368.3,171.0 364.0,173.7 353.2,180.0 348.5,183.1 344.0,186.9 340.9,190.5 339.2,193.0 337.8,196.0 336.9,199.0 336.4,202.0 336.4,205.0 336.7,208.0 337.4,211.5 338.7,216.0 331.1,216.0 329.5,214.8 327.5,213.6 325.5,213.0 324.0,212.8 322.5,212.9 321.0,213.4 319.5,214.5 318.1,216.0 310.5,216.0 309.9,214.5 309.0,213.0 307.0,211.1 305.5,210.2 304.0,209.5 302.5,209.1 300.5,208.9 298.0,209.2 295.5,210.2 292.5,212.2 288.8,216.0 286.5,216.0 289.1,210.5 290.9,205.5 291.4,202.0 291.2,200.5 290.9,199.5 290.2,198.5 288.9,197.5 287.5,196.8 285.5,196.2 283.5,195.9 281.0,195.9 278.5,196.1 276.0,196.6 276.0,191.8 280.0,188.9 283.3,186.0 285.9,183.0 287.8,180.0 289.1,177.5 290.2,174.5 291.0,171.5 291.6,168.5 291.9,163.5 291.8,157.5 288.2,117.0 287.7,109.0 287.6,103.0 287.8,98.5 288.4,94.5 289.3,90.0 292.5,76.5 293.1,72.5 293.3,68.5 293.1,65.0 292.3,61.5 291.1,58.5 289.4,56.0 287.5,54.3 285.3,53.0 276.0,49.6ZM310.5,186.0 309.0,186.1 307.5,186.4 306.0,187.1 304.5,188.0 303.4,189.0 302.2,190.5 301.4,192.0 301.0,193.5 300.9,195.0 301.2,196.0 301.7,197.0 302.5,198.0 303.7,199.0 305.0,199.8 306.5,200.4 308.0,200.8 309.5,200.9 311.0,200.8 312.5,200.4 313.5,199.9 314.6,199.0 315.4,198.0 316.2,196.5 316.5,195.0 316.6,193.5 316.5,192.0 316.1,190.5 315.4,189.0 314.5,187.9 313.5,187.0 312.0,186.3ZM398.5,203.0 399.9,201.5 401.5,200.3 403.3,199.5 405.5,199.0 408.0,198.8 410.5,198.9 413.5,199.5 416.0,200.2 416.0,216.0 396.2,216.0 395.9,212.0 396.2,208.5 397.1,205.5Z" fill="#56a5e2" fill-rule="evenodd"/>
<path d="M276.0,38.0 290.0,38.0 291.0,39.2 292.5,40.5 294.0,41.2 295.0,41.3 296.5,41.0 298.0,40.4 300.9,38.0 345.5,38.0 347.3,41.0 350.0,44.0 354.0,47.4 363.5,54.7 368.0,58.7 375.0,65.7 386.5,78.0 391.1,83.5 394.6,88.5 397.3,93.5 399.6,99.0 401.1,104.0 402.2,109.0 402.8,114.0 403.0,118.5 402.6,122.5 401.7,126.5 400.3,130.5 398.4,134.5 394.3,141.5 388.1,150.5 382.1,158.0 377.0,163.5 372.5,167.4 368.0,170.7 363.5,173.5 353.0,179.6 348.0,182.9 343.7,186.5 340.6,190.0 338.7,193.0 337.3,196.0 336.4,199.0 336.0,202.0 336.0,205.0 336.4,208.0 337.1,211.5 338.5,216.0 331.3,216.0 329.5,214.7 327.5,213.5 325.5,212.8 324.0,212.6 322.5,212.7 321.0,213.3 319.5,214.3 318.0,216.0 310.7,216.0 310.1,214.5 309.2,213.0 308.4,212.0 307.0,210.8 305.5,209.9 304.0,209.3 302.5,208.9 300.5,208.7 298.0,209.0 295.5,210.0 292.5,212.1 288.7,216.0 286.5,216.0 289.2,210.5 291.0,205.5 291.6,202.0 291.4,200.5 291.0,199.4 290.0,198.1 289.0,197.3 287.5,196.6 285.5,196.1 283.5,195.8 281.0,195.8 278.5,196.0 276.0,196.5 276.0,192.0 280.2,189.0 283.7,186.0 286.4,183.0 288.3,180.0 289.6,177.5 290.7,174.5 291.6,171.5 292.1,168.5 292.5,163.5 292.3,158.0 288.8,119.5 288.2,110.0 288.1,103.5 288.3,99.0 288.9,94.5 289.8,90.0 293.0,76.5 293.6,72.5 293.9,68.5 293.6,64.5 292.8,61.0 291.5,58.0 289.8,55.5 288.1,54.0 286.0,52.8 276.0,49.5ZM309.0,185.8 307.5,186.2 306.0,186.8 304.5,187.8 303.0,189.2 302.0,190.5 301.2,192.0 300.7,193.5 300.7,195.0 301.2,196.5 301.8,197.5 302.8,198.5 304.2,199.5 306.0,200.4 307.5,200.8 310.5,201.0 312.0,200.7 313.5,200.1 315.3,198.5 316.2,197.0 316.6,195.5 316.8,192.5 316.5,191.0 315.9,189.5 315.0,188.0 314.0,187.0 313.0,186.3 311.5,185.8ZM416.0,200.3 416.0,216.0 396.3,216.0 396.0,211.5 396.2,209.0 396.7,207.0 397.4,205.0 398.3,203.5 399.5,202.0 400.5,201.2 402.0,200.2 403.5,199.6 407.0,198.9 411.0,199.1Z" fill="#5eb1e6" fill-rule="evenodd"/>
<path d="M276.0,38.0 289.8,38.0 291.0,39.6 292.5,40.9 293.5,41.4 295.0,41.7 296.5,41.4 298.0,40.7 301.1,38.0 344.5,38.0 346.3,41.0 349.0,44.0 352.5,47.1 362.0,54.3 367.5,58.9 374.5,65.8 385.0,77.0 390.1,83.0 393.7,88.0 396.6,93.0 399.1,99.0 400.6,104.0 401.7,109.0 402.3,114.0 402.4,118.5 402.1,122.5 401.2,126.5 399.6,131.0 397.7,135.0 393.5,142.0 387.6,150.5 382.0,157.6 376.5,163.4 372.4,167.0 367.5,170.6 362.8,173.5 352.5,179.4 348.0,182.4 343.5,186.0 341.6,188.0 340.0,190.0 338.1,193.0 336.8,196.0 336.0,199.0 335.6,202.0 335.6,205.0 336.0,208.0 336.8,211.0 338.3,216.0 331.4,216.0 329.5,214.5 327.5,213.4 325.5,212.7 323.5,212.5 322.0,212.7 320.5,213.4 319.0,214.6 317.9,216.0 310.9,216.0 310.4,214.5 309.5,213.0 307.5,210.9 306.0,209.9 304.5,209.2 302.5,208.7 300.5,208.5 298.0,208.8 295.5,209.8 294.0,210.7 292.0,212.4 288.7,216.0 286.5,216.0 289.4,210.0 291.2,205.0 291.7,201.5 291.5,200.0 291.0,199.0 290.2,198.0 288.7,197.0 287.0,196.3 285.0,195.9 283.0,195.7 280.5,195.8 276.0,196.5 276.0,192.2 280.6,189.0 283.7,186.5 286.4,183.5 288.5,180.5 290.1,177.5 291.1,175.0 292.1,171.5 292.7,168.5 293.0,163.5 292.9,158.0 289.4,122.0 288.7,111.5 288.6,104.0 288.8,99.5 289.4,95.0 290.3,90.0 293.7,76.0 294.2,72.0 294.4,68.0 294.1,64.0 293.3,60.5 292.0,57.5 291.1,56.0 290.0,54.8 288.4,53.5 286.0,52.3 276.0,49.3ZM310.0,185.4 308.0,185.8 306.5,186.3 305.0,187.2 303.5,188.4 302.5,189.5 301.5,191.0 300.8,192.5 300.5,194.0 300.6,195.5 301.0,196.5 301.6,197.5 302.6,198.5 304.0,199.5 305.5,200.3 307.0,200.8 309.0,201.1 310.5,201.1 312.0,200.8 313.5,200.3 314.6,199.5 315.5,198.5 316.4,197.0 316.8,195.5 317.0,194.0 316.9,192.0 316.6,190.5 316.0,189.0 315.0,187.5 314.0,186.6 313.0,186.0 311.5,185.5ZM416.0,200.3 416.0,216.0 396.3,216.0 396.1,213.5 396.1,211.0 396.8,207.0 397.5,205.2 398.5,203.5 400.5,201.4 402.0,200.4 403.5,199.7 407.0,199.0 409.0,199.0 411.5,199.3Z" fill="#67bce8" fill-rule="evenodd"/>
<path d="M276.0,38.0 289.5,38.0 291.0,40.0 292.5,41.4 293.5,41.9 295.0,42.1 296.5,41.8 298.0,41.0 299.5,39.8 301.3,38.0 343.3,38.0 345.1,41.0 347.8,44.0 351.3,47.0 362.0,55.0 367.5,59.7 374.5,66.5 384.4,77.0 389.5,82.9 393.5,88.5 396.5,94.0 398.7,99.5 400.2,104.5 401.3,109.5 401.8,114.0 401.9,118.5 401.5,122.5 400.6,126.5 399.3,130.5 397.2,135.0 392.7,142.5 387.0,150.7 381.5,157.6 376.4,163.0 372.0,166.8 367.6,170.0 363.0,172.9 352.3,179.0 347.5,182.1 343.0,185.8 339.7,189.5 338.1,192.0 336.6,195.0 335.6,198.5 335.2,201.5 335.2,204.5 335.6,207.5 336.6,211.5 338.1,216.0 331.5,216.0 329.5,214.4 327.5,213.3 325.5,212.5 323.5,212.3 322.0,212.5 320.5,213.2 319.0,214.5 317.8,216.0 311.1,216.0 310.6,214.5 309.8,213.0 308.6,211.5 307.5,210.5 306.0,209.6 304.0,208.8 302.0,208.4 300.5,208.3 298.0,208.6 295.5,209.6 294.0,210.5 292.0,212.2 288.6,216.0 286.6,216.0 289.7,209.5 291.3,205.0 291.9,201.5 291.7,200.0 291.3,199.0 290.5,198.0 289.1,197.0 287.5,196.3 285.5,195.9 283.5,195.6 281.0,195.7 278.5,195.9 276.0,196.5 276.0,192.4 280.5,189.4 284.1,186.5 286.6,184.0 288.8,181.0 290.2,178.5 291.5,175.5 292.4,172.5 293.2,169.0 293.6,164.0 293.5,158.5 290.0,124.0 289.2,112.5 289.1,104.5 289.3,99.5 289.9,95.0 290.8,90.5 294.1,76.5 294.8,72.0 295.1,68.0 294.8,64.0 293.9,60.0 292.3,56.5 290.5,54.2 288.9,53.0 287.0,52.1 276.0,49.2ZM309.0,185.3 307.0,185.9 305.5,186.6 304.0,187.7 302.7,189.0 301.5,190.5 300.8,192.0 300.3,193.5 300.3,195.0 300.7,196.5 301.4,197.5 302.4,198.5 304.0,199.6 305.5,200.4 307.5,201.0 309.5,201.2 311.0,201.2 312.5,200.9 314.0,200.2 314.9,199.5 315.8,198.5 316.6,197.0 317.1,195.5 317.2,194.0 317.2,192.0 316.3,189.0 315.5,187.6 314.5,186.5 313.5,185.8 312.0,185.3 310.5,185.1ZM398.7,203.5 400.0,202.0 401.5,200.9 403.2,200.0 405.5,199.3 408.0,199.1 410.5,199.2 412.5,199.5 416.0,200.4 416.0,216.0 396.4,216.0 396.2,212.0 396.5,208.8 397.5,205.5Z" fill="#70c1de" fill-rule="evenodd"/>
<path d="M276.0,38.0 289.3,38.0 290.5,39.8 292.0,41.5 293.0,42.2 294.5,42.6 296.0,42.4 297.5,41.7 299.5,40.1 301.4,38.0 319.8,38.0 323.0,38.4 326.3,38.0 341.8,38.0 343.8,41.0 347.1,44.5 351.3,48.0 362.0,55.8 367.0,60.0 374.0,66.6 382.9,76.0 388.6,82.5 392.6,88.0 395.7,93.5 398.2,99.5 399.7,104.5 400.7,109.5 401.3,114.0 401.3,118.5 401.0,122.5 400.1,126.5 398.7,130.5 396.6,135.0 392.6,142.0 387.0,150.1 381.5,157.0 376.0,162.8 371.7,166.5 367.0,169.8 362.5,172.6 351.5,178.9 346.8,182.0 342.5,185.5 340.6,187.5 339.0,189.5 337.2,192.5 335.9,195.5 335.1,198.5 334.7,201.5 334.8,204.5 335.2,207.5 336.2,211.0 337.9,216.0 331.6,216.0 329.5,214.3 327.5,213.1 325.5,212.4 323.5,212.1 322.0,212.3 320.5,213.0 319.0,214.3 317.7,216.0 311.3,216.0 310.8,214.5 310.0,212.8 309.0,211.5 307.5,210.2 306.0,209.3 304.0,208.5 302.0,208.1 300.5,208.0 298.0,208.3 295.5,209.4 294.0,210.3 292.0,212.1 288.5,216.0 286.6,216.0 289.7,209.5 291.4,205.0 292.0,201.5 291.9,200.0 291.5,199.0 290.8,198.0 289.4,197.0 287.5,196.2 285.5,195.8 283.5,195.6 281.0,195.6 276.0,196.4 276.0,192.5 280.8,189.5 284.1,187.0 287.1,184.0 289.3,181.0 291.0,178.0 292.3,175.0 293.2,172.0 293.8,169.0 294.2,164.0 294.1,158.5 291.6,136.5 290.5,125.0 289.7,113.5 289.6,105.0 289.9,100.0 290.5,95.0 291.5,90.0 294.8,76.0 295.5,71.5 295.7,67.5 295.5,63.5 294.5,59.5 293.0,56.0 291.0,53.5 289.5,52.4 287.5,51.6 280.0,50.1 276.0,49.0ZM310.0,184.8 308.0,185.2 306.5,185.8 305.0,186.7 303.4,188.0 302.0,189.5 300.8,191.5 300.2,193.0 300.0,194.5 300.2,196.0 300.8,197.0 301.6,198.0 302.8,199.0 304.4,200.0 306.0,200.7 308.0,201.2 309.5,201.4 311.0,201.3 312.5,201.0 314.0,200.4 315.2,199.5 316.0,198.5 316.8,197.0 317.3,195.5 317.5,193.5 317.3,191.5 317.0,190.0 316.4,188.5 315.4,187.0 314.4,186.0 313.0,185.2 311.5,184.8ZM398.9,203.5 400.0,202.2 401.6,201.0 403.5,200.0 405.5,199.5 408.0,199.2 410.5,199.3 413.5,199.8 416.0,200.4 416.0,216.0 396.5,216.0 396.3,212.5 396.6,209.0 397.5,205.9Z" fill="#79c6d5" fill-rule="evenodd"/>
<path d="M276.0,38.0 289.1,38.0 290.5,40.4 292.0,42.1 293.0,42.8 294.5,43.2 296.0,43.0 298.0,41.8 299.5,40.4 301.6,38.0 318.4,38.0 321.0,38.7 324.0,39.0 326.5,38.8 329.3,38.0 339.9,38.0 342.2,41.0 345.7,44.5 350.1,48.0 360.5,55.5 366.0,59.9 372.5,65.9 380.5,74.0 387.2,81.5 391.7,87.5 395.2,93.5 397.7,99.5 399.2,104.5 400.2,109.5 400.7,114.0 400.8,118.5 400.4,122.5 399.5,126.5 398.2,130.5 396.1,135.0 392.1,142.0 386.6,150.0 381.0,156.9 375.7,162.5 371.5,166.1 366.5,169.6 362.0,172.4 351.3,178.5 346.5,181.6 342.0,185.2 338.6,189.0 336.8,192.0 335.4,195.0 334.6,198.0 334.2,201.5 334.3,204.5 334.9,207.5 335.9,211.0 337.7,216.0 331.7,216.0 329.5,214.2 327.5,213.0 325.5,212.2 323.5,212.0 322.0,212.2 320.5,212.8 319.0,214.1 317.5,216.0 311.5,216.0 310.9,214.0 310.1,212.5 309.0,211.1 308.0,210.2 306.5,209.3 304.5,208.4 302.5,207.9 300.5,207.7 298.0,208.1 295.5,209.1 294.0,210.1 292.0,211.9 288.4,216.0 286.7,216.0 289.6,210.0 291.5,205.0 292.2,201.5 292.1,200.0 291.8,199.0 291.1,198.0 289.8,197.0 288.0,196.2 286.0,195.7 283.5,195.5 281.0,195.5 276.0,196.4 276.0,192.7 281.2,189.5 284.6,187.0 287.2,184.5 289.6,181.5 291.4,178.5 292.7,175.5 293.7,172.5 294.4,169.0 294.8,164.5 294.7,159.0 292.1,136.5 291.1,126.0 290.2,114.0 290.1,105.5 290.4,100.5 291.0,95.5 292.1,90.0 295.6,75.5 296.2,71.0 296.4,67.0 296.1,63.0 295.2,59.0 293.5,55.2 292.5,53.8 291.5,52.7 290.0,51.7 288.5,51.2 280.5,49.9 276.0,48.8ZM311.5,184.5 310.0,184.5 308.0,185.0 306.0,185.8 304.5,186.8 303.0,188.1 301.8,189.5 300.8,191.0 300.0,193.0 299.7,194.5 299.8,195.5 300.2,196.5 300.9,197.5 301.9,198.5 303.3,199.5 306.5,201.0 308.0,201.3 310.0,201.5 312.0,201.3 313.5,200.8 314.9,200.0 315.9,199.0 316.6,198.0 317.2,196.5 317.6,194.5 317.7,192.5 317.4,190.5 316.7,188.5 315.9,187.0 314.5,185.6 313.0,184.8ZM416.0,200.5 416.0,216.0 396.6,216.0 396.4,211.5 397.0,207.7 398.4,204.5 399.5,203.0 400.5,202.0 402.0,200.9 403.5,200.2 405.0,199.7 407.0,199.4 409.0,199.3 411.5,199.5Z" fill="#84cbc7" fill-rule="evenodd"/>
<path d="M276.0,38.0 288.9,38.0 290.5,40.9 292.0,42.9 293.0,43.6 294.5,44.0 296.0,43.6 298.0,42.3 299.5,40.8 301.8,38.0 317.6,38.0 321.0,39.3 324.5,39.7 328.5,39.3 333.7,38.0 336.3,38.0 337.0,38.3 338.5,39.3 343.7,44.0 347.4,47.0 360.0,55.9 365.0,59.8 370.5,64.6 377.0,71.0 384.9,79.5 390.4,86.5 392.4,89.5 394.4,93.0 396.0,96.5 397.3,100.0 398.8,105.0 399.8,110.0 400.2,114.5 400.2,119.0 399.8,123.0 398.8,127.0 397.2,131.5 395.3,135.5 391.3,142.5 386.1,150.0 380.8,156.5 375.5,162.1 371.5,165.5 366.5,169.1 361.5,172.2 350.5,178.4 345.7,181.5 341.4,185.0 339.5,187.0 337.9,189.0 336.1,192.0 334.8,195.0 334.0,198.5 333.7,201.5 333.9,204.5 334.5,207.5 335.4,210.5 337.5,216.0 331.8,216.0 329.5,214.1 327.5,212.9 325.5,212.1 323.5,211.8 322.0,212.0 320.5,212.6 319.0,213.9 317.4,216.0 311.7,216.0 311.2,214.0 310.5,212.5 309.3,211.0 308.0,209.8 306.5,208.9 304.5,208.1 302.5,207.6 300.5,207.5 298.0,207.8 295.5,208.9 293.5,210.3 292.0,211.7 288.3,216.0 286.7,216.0 290.1,209.0 291.7,204.5 292.4,201.0 292.3,199.5 291.8,198.5 290.9,197.5 289.5,196.6 287.8,196.0 285.5,195.5 281.0,195.4 276.0,196.3 276.0,192.9 281.5,189.6 284.5,187.6 287.4,185.0 289.9,182.0 291.7,179.0 293.1,176.0 294.2,173.0 295.0,169.5 295.4,164.5 295.3,159.0 292.5,135.8 291.5,125.6 290.7,114.5 290.6,106.0 290.9,100.5 291.6,95.5 292.7,90.0 296.2,75.5 297.0,70.5 297.2,66.5 296.8,62.0 295.7,58.0 294.0,54.2 293.0,52.7 292.0,51.7 290.9,51.0 289.5,50.5 281.0,49.8 276.0,48.7ZM310.0,184.2 308.0,184.7 306.5,185.3 304.5,186.5 303.0,187.8 301.5,189.5 300.6,191.0 299.7,193.0 299.5,194.5 299.7,196.0 300.2,197.0 301.6,198.5 303.0,199.5 304.9,200.5 306.5,201.1 308.5,201.5 310.5,201.6 312.0,201.4 313.6,201.0 315.0,200.2 316.0,199.3 316.8,198.0 317.5,196.5 317.8,195.0 317.9,193.0 317.8,191.0 317.3,189.0 316.5,187.3 315.5,185.9 314.5,185.0 313.0,184.3 311.5,184.1ZM416.0,200.6 416.0,216.0 396.6,216.0 396.5,211.5 396.9,208.5 397.4,207.0 398.9,204.0 401.0,201.8 403.5,200.4 405.0,199.9 407.5,199.4 411.0,199.5 413.8,200.0Z" fill="#95d1ae" fill-rule="evenodd"/>
<path d="M276.0,38.0 288.6,38.0 291.5,43.4 292.5,44.6 293.0,44.9 294.0,45.1 295.5,44.7 297.5,43.4 299.0,41.8 302.0,38.0 316.8,38.0 319.5,39.3 321.0,39.9 323.5,40.4 327.0,40.5 334.0,40.0 336.0,40.4 337.5,41.0 339.5,42.3 347.2,48.0 362.5,58.6 368.5,63.6 375.5,70.2 384.0,79.2 387.0,82.8 389.8,86.5 392.0,89.8 394.0,93.5 395.5,96.7 396.9,100.5 398.4,105.5 399.3,110.5 399.7,115.0 399.6,119.5 399.0,124.0 398.0,127.8 396.4,132.0 394.5,136.1 390.5,142.9 385.9,149.5 380.0,156.8 375.0,161.9 370.8,165.5 366.0,168.9 361.0,171.9 350.0,178.1 344.5,181.6 340.5,185.0 338.6,187.0 337.1,189.0 335.6,191.5 334.1,195.0 333.3,198.5 333.1,201.5 333.4,204.5 334.2,208.0 337.3,216.0 331.9,216.0 330.0,214.3 327.5,212.7 325.5,211.9 323.5,211.6 321.5,211.9 320.0,212.8 318.5,214.3 317.3,216.0 312.0,216.0 311.6,214.5 310.8,212.5 309.8,211.0 308.5,209.8 306.5,208.6 304.5,207.8 302.5,207.3 300.5,207.1 297.5,207.7 295.5,208.6 294.0,209.7 292.0,211.5 288.2,216.0 286.7,216.0 290.1,209.0 291.8,204.5 292.6,201.0 292.5,199.5 292.1,198.5 291.3,197.5 290.0,196.7 288.3,196.0 286.0,195.5 283.5,195.3 281.0,195.4 276.0,196.3 276.0,193.1 282.5,189.4 285.5,187.3 288.0,185.0 290.2,182.5 292.4,179.0 293.8,176.0 294.9,173.0 295.7,169.5 296.1,164.5 296.0,159.0 295.4,153.5 293.2,137.0 292.2,127.5 291.3,115.0 291.2,106.5 291.5,100.6 292.2,95.5 293.2,90.5 296.9,75.5 297.7,70.5 298.0,66.0 297.6,61.5 296.4,57.0 294.5,52.8 293.5,51.2 292.5,50.1 291.5,49.6 290.5,49.4 282.5,49.6 280.0,49.3 276.0,48.5ZM311.0,183.7 309.0,184.0 307.0,184.8 305.0,185.9 303.5,187.1 302.0,188.6 300.6,190.5 299.6,192.5 299.2,194.0 299.3,195.5 299.6,196.5 300.3,197.5 301.3,198.5 302.8,199.5 304.7,200.5 306.5,201.2 308.5,201.6 310.5,201.7 312.0,201.6 313.5,201.2 315.0,200.5 316.1,199.5 317.0,198.2 317.7,196.5 318.0,195.0 318.2,193.0 317.9,190.5 317.4,188.5 316.5,186.6 315.5,185.3 314.0,184.2 312.5,183.7ZM399.0,204.1 400.4,202.5 401.7,201.5 403.5,200.5 405.5,199.9 408.0,199.5 410.0,199.5 413.5,200.0 416.0,200.7 416.0,216.0 396.7,216.0 396.6,212.5 397.0,208.8 397.9,206.0Z" fill="#a7d694" fill-rule="evenodd"/>
<path d="M276.0,38.0 288.4,38.0 290.9,44.5 291.1,46.0 290.7,47.0 290.0,47.7 288.5,48.4 285.0,49.1 280.5,49.1 276.0,48.3ZM302.1,38.0 316.1,38.0 320.0,40.2 323.0,41.2 326.0,41.7 333.0,41.9 336.0,42.6 338.5,43.7 341.0,45.2 361.0,58.5 367.5,63.6 374.5,70.1 382.0,77.9 387.6,84.5 391.4,90.0 394.3,95.5 396.6,101.5 398.1,107.5 398.9,113.0 399.0,118.0 398.5,123.0 397.3,128.0 395.3,133.0 392.8,138.0 389.2,144.0 384.9,150.0 381.8,154.0 378.5,157.7 375.2,161.0 371.8,164.0 368.0,166.9 364.0,169.5 349.5,177.6 344.0,181.1 341.0,183.5 338.9,185.5 336.8,188.0 335.2,190.5 333.8,193.5 332.9,196.5 332.5,199.5 332.5,202.5 332.8,205.0 333.7,208.0 337.0,216.0 332.0,216.0 330.0,214.2 327.5,212.6 325.5,211.8 323.5,211.4 321.5,211.7 320.0,212.6 318.5,214.1 317.2,216.0 312.2,216.0 311.8,214.0 311.3,212.5 310.3,211.0 308.8,209.5 307.0,208.4 305.0,207.5 302.5,206.9 300.5,206.8 299.0,206.9 297.5,207.3 295.0,208.6 292.0,211.3 288.1,216.0 286.8,216.0 290.2,209.0 292.1,204.0 292.8,200.5 292.8,199.5 292.5,198.5 291.7,197.5 290.2,196.5 288.0,195.8 286.0,195.4 283.5,195.2 281.0,195.3 277.5,195.8 276.0,196.2 276.0,193.3 282.1,190.0 285.4,188.0 288.4,185.5 290.6,183.0 292.7,180.0 294.5,176.5 295.8,173.0 296.6,169.5 297.0,165.0 296.9,160.0 296.2,154.0 293.8,137.0 292.7,127.0 291.9,115.0 291.8,105.5 292.3,100.0 293.0,95.0 294.2,89.5 297.7,75.5 298.5,71.0 298.9,67.0 298.9,63.0 298.3,59.5 297.3,56.0 295.1,50.0 294.8,49.0 294.8,48.0 295.2,47.0 298.5,43.2ZM312.0,183.2 310.5,183.3 308.5,183.9 306.5,184.7 304.5,186.0 303.0,187.3 301.4,189.0 300.4,190.5 299.4,192.5 298.9,194.0 298.9,195.0 299.1,196.0 299.6,197.0 300.5,198.0 301.7,199.0 303.4,200.0 305.5,201.0 307.5,201.5 309.5,201.8 311.5,201.8 313.5,201.4 315.0,200.7 316.0,199.9 317.1,198.5 317.8,197.0 318.3,195.0 318.4,192.5 318.1,190.0 317.4,187.5 316.3,185.5 315.0,184.2 313.5,183.4ZM399.0,204.5 400.5,202.7 402.0,201.5 403.5,200.7 405.7,200.0 408.0,199.7 410.5,199.7 413.0,200.0 416.0,200.8 416.0,216.0 396.8,216.0 396.7,212.5 397.0,209.5 397.7,207.0Z" fill="#bcdc77" fill-rule="evenodd"/>
<path d="M276.0,38.0 288.1,38.0 289.7,43.0 289.8,44.5 289.5,46.0 288.7,47.0 287.5,47.8 284.5,48.6 280.5,48.8 276.0,48.1ZM302.3,38.0 315.5,38.0 319.5,40.7 322.5,42.1 326.0,42.9 333.0,43.7 336.5,44.7 339.5,46.1 344.0,48.7 355.0,55.4 361.5,59.8 368.0,65.0 375.0,71.4 382.0,78.7 387.2,85.0 390.7,90.0 393.6,95.5 395.9,101.5 397.5,107.5 398.2,113.0 398.4,118.0 397.8,123.0 396.6,128.0 394.7,133.0 391.9,138.5 388.2,144.5 384.0,150.4 380.7,154.5 377.5,158.0 374.4,161.0 371.0,163.9 367.5,166.5 363.5,169.1 348.4,177.5 342.9,181.0 340.3,183.0 338.0,185.2 336.1,187.5 334.5,190.0 333.1,193.0 332.2,196.0 331.7,199.0 331.7,202.0 332.1,204.5 333.0,207.5 336.7,216.0 332.2,216.0 330.0,214.1 327.5,212.5 325.0,211.5 323.0,211.2 321.5,211.5 320.0,212.3 318.5,213.9 317.1,216.0 312.5,216.0 312.2,214.0 311.5,212.0 310.5,210.5 309.0,209.1 307.1,208.0 305.0,207.1 302.5,206.5 300.5,206.4 299.0,206.6 297.5,207.0 295.0,208.3 292.0,211.0 289.9,213.5 288.0,216.0 286.8,216.0 290.2,209.0 292.2,204.0 293.1,200.5 293.1,199.5 292.8,198.5 292.2,197.5 290.7,196.5 289.0,195.9 286.5,195.3 284.0,195.1 279.5,195.4 276.0,196.2 276.0,193.5 282.9,190.0 286.0,188.2 288.8,186.0 291.1,183.5 293.3,180.5 295.2,177.0 296.5,173.5 297.5,169.5 297.9,165.0 297.7,160.0 297.0,154.0 294.5,137.7 293.4,128.0 292.5,116.0 292.5,106.5 292.9,100.5 293.7,95.0 295.0,89.5 298.7,75.0 299.5,70.5 299.9,67.0 300.0,63.5 299.6,60.0 299.0,57.0 297.1,51.0 296.8,49.5 296.8,48.0 297.8,45.5ZM312.5,182.7 311.0,182.8 309.5,183.2 306.0,184.7 303.0,187.0 300.4,190.0 298.9,193.0 298.6,194.5 298.6,195.5 299.2,197.0 300.1,198.0 301.4,199.0 303.5,200.2 306.0,201.2 308.5,201.8 310.5,202.0 312.5,201.8 314.5,201.2 316.0,200.2 317.1,199.0 318.2,196.5 318.6,194.0 318.6,191.5 318.1,188.5 317.1,186.0 316.0,184.3 314.5,183.2ZM416.0,200.9 416.0,216.0 396.9,216.0 396.9,211.5 397.5,208.1 398.9,205.0 400.0,203.5 401.0,202.5 403.5,200.9 405.0,200.4 407.5,199.9 412.0,200.0Z" fill="#d1e25a" fill-rule="evenodd"/>
<path d="M276.0,38.0 287.8,38.0 288.5,40.0 289.0,42.5 289.0,44.2 288.5,45.6 287.1,47.0 284.9,48.0 281.0,48.5 276.0,47.9ZM302.5,38.0 315.0,38.0 319.0,41.4 320.5,42.3 322.5,43.3 326.0,44.3 333.5,45.5 337.9,47.0 340.1,48.0 347.5,52.0 353.4,55.5 362.5,61.5 367.0,65.0 371.0,68.5 381.5,79.0 386.5,85.0 390.5,91.0 392.5,94.7 394.0,98.0 396.0,104.0 397.0,108.4 397.5,112.0 397.5,120.5 396.5,126.0 395.5,129.2 394.0,133.0 391.0,139.0 386.5,146.0 382.5,151.5 380.0,154.5 376.5,158.1 373.0,161.5 370.0,164.0 366.5,166.5 362.5,169.0 347.5,177.1 342.5,180.2 340.0,182.1 336.5,185.5 335.2,187.0 333.6,189.5 332.2,192.5 331.2,196.0 330.8,199.5 330.8,201.5 331.2,204.0 332.3,207.5 336.4,216.0 332.3,216.0 330.0,214.0 327.5,212.3 325.0,211.3 323.0,211.0 321.5,211.3 320.0,212.1 318.5,213.7 317.0,216.0 312.9,216.0 312.8,214.5 312.3,212.5 311.8,211.5 310.0,209.3 308.5,208.1 305.5,206.8 303.0,206.1 300.5,206.0 298.5,206.1 297.0,206.6 294.5,208.2 291.7,211.0 287.8,216.0 286.9,216.0 287.0,215.5 287.4,215.0 289.7,210.5 292.5,203.5 293.4,200.0 293.4,199.0 293.0,198.0 292.1,197.0 290.5,196.2 288.5,195.6 286.0,195.1 283.0,195.0 279.5,195.3 277.0,195.8 276.0,196.1 276.0,193.9 283.5,190.3 286.0,188.9 289.0,186.7 291.3,184.5 294.3,180.5 295.9,177.5 297.3,174.0 298.4,170.0 298.8,166.0 298.8,161.5 297.8,153.5 295.0,136.6 294.0,128.2 293.5,122.5 293.1,109.5 293.5,101.5 294.5,95.0 296.0,88.5 299.8,74.5 300.8,69.5 301.2,65.5 301.2,62.5 300.8,59.0 300.3,56.5 298.5,50.8 298.3,48.5 298.5,46.5 299.0,45.0 300.5,41.7ZM313.5,182.2 311.0,182.4 307.5,183.6 304.0,185.8 301.5,188.3 299.3,191.5 298.6,193.0 298.2,194.5 298.2,195.5 298.5,196.5 299.7,198.0 301.9,199.5 304.5,200.8 306.5,201.5 309.0,202.0 311.5,202.1 313.5,201.8 315.4,201.0 316.6,200.0 317.9,198.0 318.6,195.5 318.9,192.5 318.6,189.5 317.8,186.5 316.5,184.0 315.0,182.7ZM416.0,200.9 416.0,216.0 397.0,216.0 397.0,211.5 397.5,208.8 398.5,206.0 399.5,204.5 402.0,202.0 405.2,200.5 407.7,200.0 411.5,200.0 414.5,200.5Z" fill="#e2e548" fill-rule="evenodd"/>
<path d="M276.0,38.0 287.2,38.0 287.7,41.5 287.5,43.0 287.0,44.4 286.5,45.1 285.5,46.0 284.5,46.6 283.0,47.2 280.0,47.7 276.0,47.4ZM303.0,38.0 313.9,38.0 318.5,43.9 320.0,45.4 322.0,46.7 324.0,47.6 326.0,48.3 336.5,50.8 340.0,52.0 344.0,53.6 349.5,56.3 355.4,59.5 360.5,62.7 365.0,65.9 371.0,70.9 376.5,76.1 381.6,81.5 386.0,87.1 389.2,92.0 391.7,97.0 393.8,102.5 395.1,108.0 395.8,113.0 395.8,118.5 395.2,123.5 394.0,128.4 392.0,133.5 389.3,139.0 385.5,145.0 381.5,150.5 378.5,154.0 375.5,157.2 372.5,160.0 368.8,163.0 365.0,165.6 361.0,168.1 345.0,176.3 339.7,179.5 337.0,181.5 334.8,183.5 333.0,185.5 331.4,188.0 330.0,191.0 328.9,195.0 328.4,198.5 328.6,202.0 329.2,204.5 330.3,207.0 335.6,216.0 332.4,216.0 330.0,213.8 328.0,212.4 325.5,211.3 323.0,210.8 321.5,211.1 320.0,211.9 318.4,213.5 316.9,216.0 313.7,216.0 313.7,213.5 313.2,211.5 312.2,209.5 311.0,208.3 309.0,207.0 306.0,205.8 302.5,204.9 300.5,204.7 299.0,204.9 297.5,205.3 295.0,206.8 292.0,209.9 287.6,216.0 286.9,216.0 287.0,215.5 287.8,214.5 288.5,212.8 288.8,212.5 289.0,211.8 289.3,211.5 289.5,210.8 289.8,210.5 292.1,205.0 293.6,200.5 293.7,199.0 293.5,198.0 292.7,197.0 291.0,196.1 289.0,195.5 286.5,195.1 283.5,194.9 279.5,195.2 277.0,195.7 276.0,196.1 276.0,194.3 285.5,190.6 288.5,189.2 291.5,187.1 294.0,184.5 295.8,182.0 297.0,179.5 299.5,172.5 300.9,167.0 301.2,163.5 300.9,159.5 297.3,140.0 295.8,129.0 295.0,119.5 294.8,111.0 295.3,103.0 296.5,95.2 298.3,88.0 302.9,72.5 303.7,69.0 304.2,66.0 304.3,61.5 303.9,56.5 303.3,54.0 301.4,48.5 301.0,46.0 301.1,44.0 301.4,42.0 302.0,40.0ZM316.5,182.9 315.5,182.0 314.5,181.6 313.5,181.5 312.0,181.6 308.5,182.8 306.5,183.8 304.5,185.2 301.5,188.0 299.0,191.5 298.1,193.5 297.7,195.0 297.8,196.0 298.3,197.0 299.3,198.0 301.6,199.5 305.0,201.2 306.5,201.7 309.0,202.2 312.0,202.2 314.0,201.9 316.0,200.9 317.3,199.5 318.2,198.0 318.9,195.5 319.2,193.0 319.0,190.0 318.5,187.3 317.5,184.5ZM416.0,201.1 416.0,216.0 397.3,216.0 397.3,212.0 398.0,208.5 399.5,205.3 401.5,203.0 404.0,201.4 407.5,200.4 411.5,200.3Z" fill="#f1e739" fill-rule="evenodd"/>
<path d="M276.0,38.0 286.4,38.0 286.4,41.0 285.8,43.0 285.2,44.0 284.2,45.0 282.0,46.2 279.0,46.8 276.0,46.7ZM303.5,38.0 312.8,38.0 313.7,39.5 314.3,41.0 314.8,43.0 315.1,46.0 315.8,47.5 317.0,48.5 324.5,53.6 326.5,54.3 333.5,55.2 338.0,56.1 342.5,57.3 347.0,59.0 352.5,61.4 357.5,64.1 362.5,67.2 367.0,70.5 372.0,74.8 377.0,79.6 381.4,84.5 385.0,89.3 387.8,94.0 390.0,98.5 391.8,103.5 393.0,108.7 393.6,114.0 393.5,119.5 392.8,124.5 391.4,129.5 389.1,135.0 386.2,140.5 382.6,146.0 378.5,151.2 375.5,154.5 372.4,157.5 369.0,160.4 365.5,162.9 361.5,165.4 357.0,167.8 341.0,175.2 335.7,178.0 333.0,179.8 330.9,181.5 329.1,183.5 328.1,185.0 327.4,187.0 327.1,190.5 326.8,192.5 325.1,196.5 324.7,198.0 324.5,200.5 324.7,202.5 325.3,204.5 326.2,206.0 332.0,212.8 334.4,216.0 332.5,216.0 329.5,213.2 328.0,212.2 325.0,210.9 323.0,210.6 321.5,210.8 320.0,211.6 318.2,213.5 316.7,216.0 314.9,216.0 315.4,213.0 315.4,210.5 314.7,208.5 313.5,207.1 311.7,206.0 308.5,204.8 303.0,203.2 300.0,202.8 297.5,203.2 296.5,203.7 295.0,204.8 292.5,207.8 288.5,214.0 288.5,212.9 288.9,212.5 289.0,211.9 289.4,211.5 289.5,210.9 289.9,210.5 290.0,209.9 290.4,209.5 290.5,208.8 290.8,208.5 291.0,207.8 291.3,207.5 293.2,202.5 294.2,199.0 294.1,198.0 293.9,197.5 292.6,196.5 291.0,195.8 289.0,195.3 285.5,194.8 282.5,194.7 281.3,195.0 278.5,195.2 278.2,195.5 276.5,195.7 276.0,196.1 276.0,195.1 281.0,193.5 288.5,191.7 291.0,190.9 293.5,189.3 296.0,186.9 296.9,185.5 297.5,184.1 298.6,178.5 302.5,167.0 303.7,162.5 304.0,160.0 303.7,157.0 300.0,141.3 298.3,131.5 297.3,123.0 297.0,114.5 297.1,109.5 297.5,104.9 298.1,100.5 299.1,95.5 301.5,87.0 307.1,71.5 307.9,68.0 307.8,65.5 306.9,58.5 306.8,51.0 306.2,49.5 304.5,47.3 303.5,45.7 302.7,43.0 302.7,40.5ZM315.5,180.8 314.5,180.6 313.5,180.7 310.0,181.7 306.0,183.8 303.0,186.1 300.4,189.0 298.2,192.5 297.6,194.0 297.2,195.5 297.3,196.5 297.6,197.0 298.8,198.0 302.5,200.2 306.0,201.7 308.0,202.2 311.0,202.4 313.5,202.2 315.0,201.8 316.5,200.8 318.0,199.0 318.8,197.0 319.3,194.0 319.4,191.0 318.9,187.5 318.0,184.1 317.0,182.1 316.5,181.5ZM416.0,201.4 416.0,216.0 397.7,216.0 397.8,212.0 398.6,208.5 400.0,205.7 402.0,203.5 404.5,201.9 406.0,201.3 408.0,200.9 412.0,200.7Z" fill="#f7e035" fill-rule="evenodd"/>
<path d="M276.0,46.0 276.0,38.0 285.6,38.0 285.4,40.5 284.5,42.5 283.2,44.0 281.5,45.1 279.0,46.0ZM304.0,38.0 312.0,38.0 312.5,39.0 312.8,41.5 312.3,43.5 311.5,44.8 310.0,45.9 308.5,46.1 307.0,45.7 305.5,44.8 304.4,43.5 303.5,41.5 303.6,38.5ZM314.0,49.3 315.5,49.7 317.0,50.4 318.4,51.5 319.8,53.0 321.3,55.0 321.9,56.5 322.6,59.0 323.0,59.7 323.5,60.1 325.0,60.4 331.5,60.0 337.0,60.4 343.0,61.5 349.0,63.4 355.5,66.3 361.5,69.7 367.5,74.0 373.0,78.7 378.0,83.9 382.0,88.8 385.3,94.0 387.8,99.0 389.8,104.5 390.9,110.0 391.4,116.0 391.0,121.5 390.1,126.0 388.7,130.5 386.9,135.0 384.2,140.0 381.3,144.5 377.9,149.0 374.3,153.0 370.5,156.6 367.5,159.0 364.0,161.4 357.0,165.4 348.5,169.1 329.7,176.0 325.6,178.0 323.7,179.5 323.2,180.5 323.2,181.5 325.5,188.5 325.7,190.5 325.5,192.0 325.0,193.2 324.0,194.3 321.0,196.0 320.4,197.0 319.0,200.5 318.4,201.5 317.5,202.3 316.0,203.1 313.5,203.3 310.5,203.1 307.1,202.5 310.0,202.5 310.3,202.5 310.5,202.9 311.5,202.9 312.5,202.7 312.6,202.5 314.5,202.4 316.0,201.7 317.8,200.0 317.9,199.5 318.4,199.0 318.9,198.0 319.0,197.2 319.4,196.5 319.4,195.0 319.7,194.5 319.7,193.5 319.5,189.0 319.2,188.5 319.0,186.0 318.7,185.5 318.6,184.0 318.3,183.5 318.1,182.0 317.7,181.5 317.6,180.5 317.2,180.0 317.0,179.0 315.5,178.9 315.0,179.3 314.0,179.5 312.0,180.2 311.5,180.6 310.5,180.9 307.0,182.9 304.0,185.0 300.8,188.0 299.2,190.0 299.1,190.5 297.7,192.5 296.8,194.5 296.4,196.5 297.5,197.7 298.0,197.9 300.0,199.3 300.7,199.5 301.0,199.9 301.7,200.0 302.0,200.4 302.7,200.5 302.5,201.0 298.5,199.7 297.5,199.7 296.5,199.9 295.0,201.2 292.5,205.5 292.5,204.5 293.0,204.0 293.0,203.4 293.4,203.0 293.5,202.2 293.8,202.0 294.0,200.8 294.3,200.5 294.4,199.5 294.8,199.0 294.7,197.5 293.5,196.4 292.5,196.1 292.0,195.7 290.7,195.5 290.5,195.2 290.0,195.1 288.1,195.0 288.0,194.8 287.5,194.6 282.1,194.5 285.5,194.3 291.5,194.5 293.5,194.3 294.5,194.0 295.5,193.3 297.5,190.8 299.0,188.5 299.6,187.0 299.6,186.0 299.1,181.5 299.3,179.5 299.7,178.0 302.2,171.0 305.9,162.5 306.6,160.0 306.8,157.5 306.5,155.0 302.4,140.5 301.2,135.0 300.3,129.5 299.7,124.5 299.4,119.5 299.3,114.5 299.5,110.0 300.0,105.0 300.7,100.5 301.7,96.0 303.0,91.5 306.1,83.0 308.1,78.5 311.6,71.5 312.4,69.0 312.5,68.0 312.2,67.0 310.0,63.0 309.0,60.0 308.6,56.5 308.8,53.5 309.3,52.0 310.5,50.4 312.0,49.5ZM302.5,201.0 304.0,201.0 304.5,201.5 305.2,201.5 305.0,201.9ZM416.0,201.6 416.0,216.0 398.0,216.0 398.2,211.5 399.1,208.5 400.1,206.5 401.8,204.5 403.5,203.1 406.5,201.6 408.0,201.4 408.5,201.1 413.0,201.1ZM316.7,215.0 318.0,212.4 319.0,210.8 320.0,209.8 321.5,209.2 323.0,209.2 325.0,209.8 327.0,210.8 329.4,212.5 328.7,212.5 327.5,211.6 326.9,211.5 326.5,211.1 325.8,211.0 325.5,210.6 324.1,210.5 323.5,210.1 322.0,210.2 321.8,210.5 321.0,210.6 320.5,211.1 320.0,211.1 318.2,213.0 318.0,213.5 317.6,214.0 317.5,214.5 317.0,215.2Z" fill="#fad531" fill-rule="evenodd"/>
<path d="M276.0,45.8 276.0,38.0 285.3,38.0 285.1,40.5 284.7,41.0 284.7,41.5 284.3,42.0 284.1,42.5 282.5,44.2 282.0,44.3 280.5,45.2 279.5,45.3 279.0,45.6ZM304.2,38.0 311.7,38.0 312.2,39.0 312.3,40.5 312.2,42.5 311.7,43.0 311.7,43.5 310.5,44.7 310.0,44.7 309.5,45.2 307.0,45.1 306.5,44.7 306.0,44.6 304.9,43.5 304.7,43.0 304.3,42.5 304.2,42.0 303.9,41.5 303.8,39.0ZM313.0,50.2 315.0,50.3 316.0,50.7 317.0,51.4 318.8,53.5 319.3,54.5 319.8,56.0 319.8,57.0 319.5,58.5 318.5,60.8 317.0,62.5 315.5,63.2 314.5,63.3 313.5,63.1 312.0,62.1 310.6,60.0 309.8,57.5 309.7,54.5 310.2,52.5 311.4,51.0ZM342.5,62.4 343.0,62.8 344.5,62.9 345.0,63.3 346.0,63.4 346.5,63.8 347.5,63.9 348.0,64.3 349.0,64.4 349.5,64.8 350.5,64.9 352.0,65.8 352.5,65.8 353.0,66.3 354.0,66.4 354.5,66.8 355.0,66.9 355.5,67.3 356.0,67.4 356.5,67.8 357.0,67.9 357.5,68.3 358.0,68.4 359.0,69.3 359.5,69.3 360.0,69.8 360.5,69.9 361.5,70.8 362.0,70.9 363.0,71.8 363.5,71.9 364.5,72.8 365.0,72.9 366.5,74.3 367.0,74.4 369.0,76.3 369.5,76.4 379.1,86.0 379.2,86.5 381.1,88.5 381.2,89.0 382.1,90.0 382.2,90.5 383.1,91.5 383.2,92.0 384.1,93.0 384.2,93.5 384.7,94.0 384.7,94.5 385.2,95.0 385.2,95.5 385.7,96.0 385.7,96.5 386.2,97.0 386.2,97.5 387.2,99.0 387.2,99.5 387.6,100.0 387.7,101.0 388.2,101.5 388.2,102.5 388.7,103.0 388.7,104.0 389.1,104.5 389.2,105.5 389.6,106.0 389.7,108.0 390.1,108.5 390.2,111.5 390.6,112.0 390.6,120.5 390.2,121.0 390.1,123.5 389.7,124.0 389.6,126.0 389.2,126.5 389.1,127.5 388.7,128.0 388.7,129.0 388.2,129.5 388.1,130.5 387.7,131.0 387.6,132.0 386.7,133.5 386.7,134.0 386.2,134.5 386.2,135.0 385.7,135.5 385.7,136.0 385.2,136.5 385.2,137.0 384.7,137.5 384.7,138.0 384.2,138.5 384.2,139.0 383.7,139.5 383.6,140.0 382.7,141.0 382.1,142.5 381.2,143.5 381.1,144.0 379.7,145.5 379.6,146.0 378.2,147.5 378.1,148.0 375.2,151.0 375.1,151.5 372.0,154.6 371.5,154.7 368.5,157.6 368.0,157.7 366.5,159.1 366.0,159.2 365.0,160.1 364.5,160.2 363.5,161.1 363.0,161.2 362.5,161.7 362.0,161.7 361.0,162.6 360.5,162.7 360.0,163.2 359.5,163.2 359.0,163.7 358.5,163.7 358.0,164.2 357.5,164.2 357.0,164.7 356.5,164.7 356.0,165.2 355.5,165.2 355.0,165.6 354.5,165.7 354.0,166.1 353.0,166.2 352.5,166.7 352.0,166.7 350.5,167.6 349.5,167.7 349.0,168.1 348.0,168.2 346.5,169.1 345.5,169.2 345.0,169.6 344.0,169.7 343.5,170.1 342.5,170.2 342.0,170.6 341.0,170.7 340.5,171.1 339.5,171.2 339.0,171.6 338.0,171.7 337.5,172.1 336.0,172.2 335.5,172.6 334.5,172.7 334.0,173.1 333.0,173.2 332.5,173.6 331.5,173.7 331.0,174.1 329.5,174.2 329.0,174.6 328.0,174.7 327.5,175.1 326.5,175.2 326.0,175.6 324.5,175.7 324.0,176.1 323.0,176.2 322.5,176.6 321.5,176.7 321.0,177.1 320.0,177.2 319.5,177.6 318.5,177.7 318.0,178.1 317.0,178.1 316.9,177.5 316.4,177.0 316.3,176.0 315.9,175.5 315.8,175.0 315.4,174.5 315.3,173.5 314.9,173.0 314.8,172.5 314.4,172.0 314.3,171.0 313.8,170.5 313.8,170.0 313.4,169.5 313.3,168.5 312.8,168.0 312.8,167.5 312.3,167.0 312.3,166.0 311.8,165.5 311.7,165.0 311.2,164.5 311.2,163.5 310.7,163.0 310.6,162.5 310.1,162.0 310.1,161.0 309.6,160.5 309.6,160.0 309.2,159.5 309.2,158.5 308.7,158.0 308.7,157.5 308.3,157.0 308.2,156.0 307.8,155.5 307.8,154.5 307.3,154.0 307.3,153.0 306.4,151.5 306.3,150.5 305.9,150.0 305.8,149.0 305.4,148.5 305.3,147.5 304.9,147.0 304.8,145.5 304.4,145.0 304.3,144.0 303.9,143.5 303.8,142.0 303.4,141.5 303.3,140.0 302.9,139.5 302.8,138.0 302.4,137.5 302.3,136.0 301.9,135.5 301.8,133.0 301.4,132.5 301.3,130.0 300.9,129.5 300.8,126.5 300.4,126.0 300.3,119.5 299.9,119.0 299.9,113.0 300.3,112.5 300.4,106.5 300.8,106.0 300.9,103.0 301.3,102.5 301.4,100.5 301.8,100.0 301.9,98.0 302.3,97.5 302.4,96.0 302.8,95.5 302.9,94.5 303.3,94.0 303.4,92.5 303.8,92.0 303.9,91.0 304.3,90.5 304.4,89.5 305.3,88.0 305.4,87.0 306.3,85.5 306.4,84.5 307.3,83.0 307.3,82.5 307.8,82.0 307.9,81.0 308.8,79.5 308.9,79.0 309.3,78.5 309.4,78.0 310.3,77.0 310.3,76.5 310.8,76.0 310.8,75.5 311.3,75.0 311.4,74.5 312.3,73.5 312.3,73.0 312.8,72.5 312.9,72.0 314.3,70.5 314.3,70.0 319.5,64.7 320.0,64.7 320.5,64.2 321.0,64.2 322.0,63.3 323.0,63.3 323.5,62.8 324.5,62.8 325.0,62.3 326.5,62.3 327.0,61.9 330.0,61.8 330.5,61.4 336.0,61.4 336.5,61.8 340.0,61.9 340.5,62.3ZM308.0,165.2 308.5,165.8 308.7,166.5 308.8,170.0 308.3,175.0 307.0,182.5 306.5,183.0 306.0,183.1 304.5,184.6 304.0,184.7 302.5,185.8 301.0,184.3 300.2,182.5 299.9,180.5 300.2,178.5 302.4,172.5 304.5,168.3 306.5,165.7 307.5,165.1ZM320.0,184.5 321.0,184.4 322.5,185.3 323.5,186.6 324.4,188.5 324.8,190.0 324.6,191.5 324.0,192.6 323.0,193.3 321.5,193.3 320.0,192.5 319.8,189.0 319.4,188.5 319.4,186.0 319.1,185.5ZM416.0,201.8 416.0,216.0 398.2,216.0 398.4,211.5 399.3,208.5 400.4,206.5 403.5,203.3 406.5,201.9 408.0,201.7 408.5,201.4 412.5,201.3Z" fill="#f8c02f" fill-rule="evenodd"/>
<path d="M276.0,45.5 276.0,38.0 285.0,38.0 284.8,39.5 284.4,41.0 283.5,42.5 282.5,43.5 281.0,44.5 279.8,45.0 278.0,45.4ZM304.4,38.0 311.5,38.0 311.8,39.0 312.0,40.5 311.6,42.0 311.1,43.0 310.0,43.9 308.5,44.4 307.0,44.2 306.0,43.7 304.8,42.5 304.1,41.0 304.0,39.5ZM313.5,50.7 315.0,50.8 316.0,51.3 316.9,52.0 317.9,53.5 318.4,55.5 318.3,57.0 317.3,59.0 316.0,60.3 314.5,60.8 313.0,60.4 312.0,59.7 310.9,58.0 310.4,56.0 310.4,54.0 310.9,52.5 312.0,51.3ZM340.5,63.7 345.5,64.8 350.5,66.4 355.5,68.5 360.5,71.2 365.5,74.6 370.0,78.1 374.5,82.3 378.3,86.5 381.5,90.7 384.2,95.0 386.4,99.5 388.0,104.0 389.1,108.5 389.7,113.5 389.8,118.0 389.3,122.5 388.3,127.0 386.6,132.0 384.3,137.0 381.7,141.5 378.5,146.1 374.9,150.5 371.0,154.4 367.0,157.7 362.5,160.7 358.0,163.2 352.5,165.7 346.5,167.9 338.5,170.2 331.5,171.8 326.5,172.5 324.5,172.5 322.5,172.4 320.0,171.5 318.5,170.5 317.5,169.6 315.5,167.1 311.0,160.5 310.0,158.2 305.0,143.1 303.6,138.0 302.5,133.0 301.7,128.0 301.2,123.0 300.9,118.0 300.9,113.5 301.3,108.5 301.9,104.0 302.9,99.0 304.1,94.5 305.8,89.5 307.6,85.0 310.0,80.1 312.4,76.0 315.0,72.2 317.5,69.2 319.5,67.4 321.5,66.2 324.5,64.9 327.5,64.0 330.5,63.5 333.5,63.3 337.0,63.3ZM306.5,168.9 307.0,169.5 307.2,170.0 307.4,172.5 307.1,176.0 306.3,180.5 305.5,182.3 304.5,183.4 303.5,183.8 302.5,183.7 301.5,183.0 300.9,182.0 300.6,180.5 300.9,178.5 302.5,174.0 304.0,171.1 305.5,169.2 306.0,168.9ZM321.0,187.0 321.5,186.8 322.5,187.3 323.5,188.9 323.9,190.5 323.6,191.5 323.0,192.0 322.0,192.1 321.5,191.8 321.0,191.3 320.6,190.5 320.3,188.5 320.5,187.5ZM416.0,201.9 416.0,216.0 398.4,216.0 398.6,212.0 399.5,208.8 401.0,206.1 403.0,204.1 405.5,202.6 408.5,201.7 412.5,201.5Z" fill="#f5aa2d" fill-rule="evenodd"/>
<path d="M276.0,45.2 276.0,38.0 284.6,38.0 284.3,39.5 283.7,41.0 283.0,42.1 282.0,43.2 281.0,43.9 279.5,44.5 277.7,45.0ZM304.6,38.0 311.1,38.0 311.4,40.0 311.1,41.5 310.0,42.8 309.0,43.3 307.5,43.4 306.5,43.1 305.2,42.0 304.5,40.7 304.3,39.5ZM313.5,51.1 315.0,51.2 316.0,51.8 317.1,53.0 317.6,54.5 317.5,56.0 316.8,57.5 315.5,58.8 314.5,59.1 313.0,58.9 312.0,58.2 311.2,57.0 310.8,55.5 310.9,54.0 311.5,52.5 312.5,51.5ZM340.0,65.8 344.5,66.5 349.5,67.9 354.5,69.8 359.0,72.1 363.5,74.8 368.0,78.2 372.5,82.1 376.5,86.3 379.8,90.5 382.5,94.5 384.6,98.5 386.4,103.0 387.6,107.5 388.4,112.0 388.6,116.5 388.3,121.0 387.3,126.0 385.9,130.5 383.8,135.5 381.3,140.0 378.4,144.5 375.0,148.7 371.5,152.4 367.5,155.8 363.0,159.0 358.5,161.5 353.5,163.8 348.0,165.8 342.0,167.5 336.0,168.7 331.0,169.2 326.5,169.0 324.0,168.5 321.5,167.4 319.0,165.6 317.0,163.6 314.5,160.3 312.0,156.3 310.5,153.2 308.0,147.0 306.3,142.0 304.8,137.0 303.7,132.0 302.9,127.0 302.4,122.0 302.2,117.0 302.4,112.0 302.9,107.0 303.7,102.0 304.8,97.5 306.2,93.0 308.0,88.5 310.0,84.1 312.3,80.0 314.5,76.8 317.0,73.7 319.0,71.7 321.5,69.7 324.0,68.3 327.0,67.0 330.0,66.2 333.0,65.8 336.5,65.6ZM305.5,171.7 306.0,172.1 306.3,174.0 306.2,176.5 305.6,180.0 305.2,181.0 304.5,181.9 304.0,182.3 303.0,182.5 302.0,182.0 301.6,181.5 301.3,180.5 301.4,179.0 302.5,175.8 303.5,173.7 304.5,172.3 305.0,171.8ZM416.0,202.2 416.0,216.0 398.6,216.0 398.9,212.0 399.8,209.0 401.0,206.7 403.0,204.5 405.5,202.9 407.0,202.3 409.0,201.9 413.0,201.8 415.5,202.0Z" fill="#f1932a" fill-rule="evenodd"/>
<path d="M276.0,42.9 276.0,38.0 282.0,38.0 281.0,39.8 279.5,41.3 278.0,42.2ZM305.8,38.0 309.5,38.0 309.5,39.0 309.0,39.8 308.5,40.2 307.5,40.4 306.5,40.1 305.9,39.5ZM314.0,51.4 315.0,51.6 316.0,52.2 316.8,53.5 317.0,54.5 316.8,56.0 316.1,57.0 315.0,57.9 314.0,58.2 313.0,58.0 312.0,57.2 311.4,56.0 311.3,55.0 311.4,53.5 311.9,52.5 313.0,51.7ZM340.0,77.1 343.5,77.1 347.5,77.6 351.0,78.4 354.5,79.6 358.0,81.2 361.5,83.2 365.0,85.6 368.0,88.1 370.9,91.0 373.5,94.0 375.6,97.0 377.7,100.5 379.2,104.0 380.3,107.5 381.0,111.0 381.4,115.0 381.3,118.5 380.8,122.5 379.9,126.5 378.5,130.5 376.8,134.5 374.5,138.5 372.2,142.0 369.7,145.0 367.0,147.7 364.0,150.2 361.0,152.2 357.5,154.1 354.0,155.6 350.0,156.8 346.0,157.5 342.5,157.8 339.0,157.7 336.0,157.3 333.0,156.6 330.5,155.6 328.0,154.4 325.2,152.5 322.9,150.5 320.6,148.0 318.5,145.3 316.4,142.0 314.5,138.5 313.1,135.0 311.9,131.5 310.9,127.5 310.3,124.0 310.0,120.0 310.1,116.0 310.4,112.0 311.1,108.0 312.1,104.0 313.3,100.0 315.0,96.0 316.8,92.5 318.7,89.5 320.6,87.0 323.0,84.5 325.5,82.4 328.0,80.7 330.5,79.4 333.5,78.3 336.5,77.6ZM333.5,110.6 333.1,111.0 333.0,111.5 333.5,112.0 334.0,111.5 333.9,111.0ZM304.5,174.6 305.0,174.8 305.2,176.0 304.9,179.5 304.5,180.5 304.0,181.0 303.5,181.3 303.0,181.3 302.5,181.0 302.2,180.5 302.1,179.0 303.5,175.6ZM416.0,203.3 416.0,216.0 399.9,216.0 400.3,213.0 401.4,210.0 403.0,207.5 404.5,205.9 407.0,204.3 409.5,203.5 413.5,203.0Z" fill="#ee832a" fill-rule="evenodd"/>
<path d="M314.0,51.8 315.0,52.0 315.8,52.5 316.4,53.5 316.6,54.5 316.4,55.5 315.7,56.5 315.0,57.1 314.0,57.4 313.0,57.2 312.2,56.5 311.7,55.5 311.6,54.5 311.8,53.5 312.4,52.5 313.0,52.0Z" fill="#eb7429" fill-rule="evenodd"/>
<path d="M314.0,52.1 315.0,52.3 315.5,52.7 316.1,53.5 316.2,54.5 315.9,55.5 315.5,56.0 314.9,56.5 314.0,56.8 313.0,56.6 312.5,56.1 312.2,55.5 312.0,54.5 312.5,52.9 313.0,52.4Z" fill="#e96528" fill-rule="evenodd"/>
<path d="M314.0,52.4 314.7,52.5 315.4,53.0 315.8,54.0 315.7,55.0 315.4,55.5 314.8,56.0 314.0,56.3 313.0,56.0 312.5,55.2 312.3,54.5 312.5,53.6 312.8,53.0 313.5,52.5Z" fill="#e65728" fill-rule="evenodd"/>
<path d="M314.0,52.8 315.0,53.1 315.4,54.0 315.0,55.2 314.0,55.8 313.2,55.5 312.7,54.5 313.0,53.4 313.5,52.9Z" fill="#e24829" fill-rule="evenodd"/>
<path d="M314.0,53.2 314.5,53.3 315.0,54.0 314.5,55.0 314.0,55.2 313.5,55.0 313.2,54.5 313.5,53.5Z" fill="#de3a29" fill-rule="evenodd"/>
</g>
<path d="M340.0,75.0 343.5,75.1 347.5,75.7 351.5,76.7 355.5,78.1 359.5,80.1 363.0,82.3 366.5,84.9 369.5,87.5 372.5,90.6 375.3,94.0 377.6,97.5 379.5,101.0 380.9,104.5 382.0,108.5 382.6,112.0 382.8,116.0 382.6,120.0 381.9,124.0 380.7,128.5 379.2,132.5 377.2,136.5 374.8,140.5 372.2,144.0 369.5,147.1 366.5,149.9 363.0,152.5 359.5,154.7 356.0,156.3 352.0,157.8 348.0,158.9 344.0,159.5 340.0,159.7 336.5,159.5 333.5,159.0 330.5,158.1 328.0,157.0 325.5,155.6 323.0,153.7 320.7,151.5 318.5,148.9 316.2,145.5 314.2,142.0 312.5,138.3 311.0,134.2 309.8,130.0 309.0,126.0 308.6,122.0 308.4,118.0 308.6,114.0 309.1,109.5 309.9,105.5 311.0,101.5 312.4,97.5 314.0,93.7 316.0,90.1 318.0,87.1 320.1,84.5 322.6,82.0 325.1,80.0 328.0,78.2 331.0,76.8 334.0,75.9 337.0,75.3ZM276.0,198.6 279.5,198.7 281.0,199.0 282.5,199.5 284.0,200.2 285.0,201.0 285.9,202.0 286.5,203.0 287.0,204.1 287.4,205.5 287.4,208.5 286.8,212.0 285.4,216.0 276.0,216.0ZM416.0,202.9 416.0,216.0 399.6,216.0 400.0,213.0 401.0,210.0 402.5,207.5 404.4,205.5 406.9,204.0 409.5,203.1 412.5,202.7Z" fill="#fff"/>
<path d="M304.1,38.0 L303.9,38.5 L303.7,39.5 L303.7,40.5 L303.9,41.5 L304.0,42.0 L304.5,42.9 L304.9,43.5 L305.4,44.0 L306.0,44.5 L306.5,44.8 L307.0,45.0 L308.0,45.3 L309.0,45.3 L309.9,45.0 L310.5,44.7 L311.0,44.3 L311.5,43.7 L311.9,43.0 L312.1,42.5 L312.4,41.5 L312.4,40.5 L312.3,39.5 L312.0,38.6 L311.7,38.0" fill="none" stroke="#111" stroke-width="0.6"/>
<path d="M276.0,45.8 L277.0,45.8 L278.0,45.8 L279.0,45.6 L279.5,45.5 L280.5,45.2 L281.0,45.0 L282.0,44.5 L282.5,44.1 L283.0,43.8 L283.5,43.3 L284.0,42.7 L284.4,42.0 L284.7,41.5 L285.0,40.6 L285.1,40.0 L285.3,39.0 L285.3,38.0" fill="none" stroke="#111" stroke-width="0.6"/>
<path d="M416.0,201.8 L415.0,201.6 L414.5,201.5 L413.5,201.4 L412.5,201.3 L411.5,201.2 L410.5,201.2 L409.5,201.3 L408.5,201.4 L408.0,201.5 L407.0,201.8 L406.3,202.0 L405.5,202.3 L405.0,202.5 L404.1,203.0 L403.5,203.4 L403.0,203.7 L402.5,204.1 L402.0,204.6 L401.5,205.1 L401.0,205.7 L400.5,206.4 L400.1,207.0 L399.8,207.5 L399.5,208.2 L399.2,209.0 L399.0,209.5 L398.7,210.5 L398.5,211.4 L398.4,212.0 L398.3,213.0 L398.2,214.0 L398.1,215.0 L398.1,216.0" fill="none" stroke="#111" stroke-width="0.6"/>
<path d="M286.8,216.0 L287.0,215.5 L287.5,214.7 L287.9,214.0 L288.1,213.5 L288.5,212.8 L288.9,212.0 L289.2,211.5 L289.5,210.9 L290.0,210.0 L290.2,209.5 L290.5,208.9 L290.9,208.0 L291.2,207.5 L291.5,206.8 L291.9,206.0 L292.1,205.5 L292.5,204.5 L292.7,204.0 L293.0,203.3 L293.3,202.5 L293.5,202.0 L293.9,201.0 L294.1,200.5 L294.5,199.5 L294.6,199.0 L294.9,198.0 L294.5,197.0 L294.0,196.7 L293.5,196.4 L292.5,196.1 L292.0,195.9 L291.0,195.6 L290.5,195.5 L289.5,195.2 L288.5,195.1 L288.0,195.0 L287.0,194.9 L286.0,194.8 L285.0,194.8 L284.0,194.8 L283.0,194.8 L282.0,194.9 L281.0,195.0 L280.5,195.0 L279.5,195.2 L278.5,195.4 L278.0,195.5 L277.0,195.7 L276.1,196.0" fill="none" stroke="#111" stroke-width="0.6"/>
<path d="M332.6,216.0 L332.1,215.5 L331.6,215.0 L331.0,214.5 L330.5,214.0 L330.0,213.6 L329.5,213.2 L329.0,212.8 L328.5,212.5 L327.7,212.0 L327.0,211.6 L326.5,211.3 L325.7,211.0 L325.0,210.7 L324.1,210.5 L323.5,210.4 L322.5,210.4 L321.8,210.5 L321.0,210.7 L320.5,211.0 L319.8,211.5 L319.3,212.0 L318.8,212.5 L318.5,213.0 L318.0,213.7 L317.5,214.5 L317.2,215.0 L317.0,215.5" fill="none" stroke="#111" stroke-width="0.6"/>
<path d="M330.5,61.5 L330.0,61.5 L329.0,61.6 L328.0,61.7 L327.0,61.9 L326.5,62.0 L325.5,62.2 L324.6,62.5 L324.0,62.7 L323.1,63.0 L322.5,63.3 L322.0,63.5 L321.0,64.0 L320.5,64.3 L320.0,64.6 L319.4,65.0 L318.7,65.5 L318.1,66.0 L317.6,66.5 L317.0,67.0 L316.5,67.5 L316.1,68.0 L315.6,68.5 L315.2,69.0 L314.8,69.5 L314.4,70.0 L314.0,70.6 L313.5,71.3 L313.0,72.0 L312.7,72.5 L312.3,73.0 L312.0,73.5 L311.5,74.4 L311.1,75.0 L310.8,75.5 L310.5,76.1 L310.0,77.0 L309.7,77.5 L309.5,78.0 L309.0,78.9 L308.7,79.5 L308.5,80.0 L308.0,81.0 L307.8,81.5 L307.5,82.1 L307.1,83.0 L306.9,83.5 L306.5,84.4 L306.2,85.0 L306.0,85.6 L305.6,86.5 L305.4,87.0 L305.0,88.0 L304.9,88.5 L304.5,89.5 L304.3,90.0 L304.0,90.9 L303.8,91.5 L303.5,92.5 L303.3,93.0 L303.0,94.0 L302.9,94.5 L302.6,95.5 L302.5,96.0 L302.2,97.0 L302.0,97.9 L301.9,98.5 L301.6,99.5 L301.5,100.1 L301.3,101.0 L301.1,102.0 L301.0,102.8 L300.9,103.5 L300.7,104.5 L300.6,105.5 L300.5,106.3 L300.4,107.0 L300.3,108.0 L300.2,109.0 L300.1,110.0 L300.1,111.0 L300.0,112.0 L300.0,112.7 L300.0,113.5 L300.0,114.5 L299.9,115.5 L299.9,116.5 L300.0,117.5 L300.0,118.5 L300.0,119.2 L300.0,120.0 L300.1,121.0 L300.1,122.0 L300.2,123.0 L300.3,124.0 L300.4,125.0 L300.5,126.0 L300.6,126.5 L300.7,127.5 L300.8,128.5 L300.9,129.5 L301.0,130.0 L301.2,131.0 L301.3,132.0 L301.5,132.9 L301.6,133.5 L301.8,134.5 L302.0,135.5 L302.1,136.0 L302.3,137.0 L302.5,137.8 L302.7,138.5 L302.9,139.5 L303.0,140.0 L303.3,141.0 L303.5,141.9 L303.7,142.5 L304.0,143.5 L304.1,144.0 L304.4,145.0 L304.5,145.5 L304.8,146.5 L305.0,147.0 L305.3,148.0 L305.5,148.6 L305.8,149.5 L306.0,150.1 L306.3,151.0 L306.5,151.6 L306.8,152.5 L307.0,153.0 L307.4,154.0 L307.6,154.5 L307.9,155.5 L308.1,156.0 L308.5,157.0 L308.7,157.5 L309.0,158.4 L309.3,159.0 L309.5,159.6 L309.8,160.5 L310.0,161.0 L310.4,162.0 L310.6,162.5 L311.0,163.4 L311.2,164.0 L311.5,164.7 L311.8,165.5 L312.0,166.0 L312.5,167.0 L312.7,167.5 L313.0,168.3 L313.3,169.0 L313.5,169.6 L313.9,170.5 L314.1,171.0 L314.5,172.0 L314.7,172.5 L315.0,173.3 L315.3,174.0 L315.5,174.6 L315.8,175.5 L316.0,176.0 L316.4,177.0 L316.6,177.5 L317.0,178.5 L318.0,178.0 L318.5,177.9 L319.5,177.5 L320.0,177.4 L321.0,177.1 L321.5,176.9 L322.5,176.6 L323.0,176.4 L324.0,176.1 L324.5,176.0 L325.5,175.7 L326.0,175.5 L327.0,175.2 L327.7,175.0 L328.5,174.8 L329.4,174.5 L330.0,174.3 L331.0,174.0 L331.5,173.9 L332.5,173.6 L333.0,173.4 L334.0,173.1 L334.5,172.9 L335.5,172.6 L336.0,172.5 L337.0,172.2 L337.6,172.0 L338.5,171.7 L339.1,171.5 L340.0,171.2 L340.7,171.0 L341.5,170.7 L342.2,170.5 L343.0,170.2 L343.7,170.0 L344.5,169.7 L345.2,169.5 L346.0,169.2 L346.6,169.0 L347.5,168.7 L348.0,168.5 L349.0,168.1 L349.5,167.9 L350.5,167.5 L351.0,167.3 L351.8,167.0 L352.5,166.7 L353.0,166.5 L354.0,166.1 L354.5,165.8 L355.3,165.5 L356.0,165.2 L356.5,164.9 L357.4,164.5 L358.0,164.2 L358.5,163.9 L359.3,163.5 L360.0,163.1 L360.5,162.9 L361.1,162.5 L362.0,162.0 L362.5,161.7 L363.0,161.4 L363.6,161.0 L364.4,160.5 L365.0,160.1 L365.5,159.8 L366.0,159.4 L366.6,159.0 L367.3,158.5 L367.9,158.0 L368.5,157.5 L369.0,157.1 L369.5,156.7 L370.0,156.3 L370.5,155.9 L371.0,155.4 L371.5,155.0 L372.0,154.5 L372.6,154.0 L373.1,153.5 L373.6,153.0 L374.1,152.5 L374.6,152.0 L375.0,151.5 L375.5,151.0 L376.0,150.4 L376.5,149.9 L377.0,149.3 L377.5,148.7 L378.0,148.1 L378.4,147.5 L378.8,147.0 L379.2,146.5 L379.6,146.0 L380.0,145.4 L380.5,144.8 L381.0,144.0 L381.4,143.5 L381.7,143.0 L382.0,142.5 L382.5,141.8 L383.0,141.0 L383.3,140.5 L383.6,140.0 L384.0,139.3 L384.4,138.5 L384.7,138.0 L385.0,137.5 L385.5,136.5 L385.7,136.0 L386.0,135.5 L386.5,134.5 L386.7,134.0 L387.0,133.3 L387.3,132.5 L387.5,132.0 L387.9,131.0 L388.1,130.5 L388.5,129.5 L388.6,129.0 L389.0,128.0 L389.1,127.5 L389.4,126.5 L389.5,126.0 L389.7,125.0 L390.0,124.0 L390.1,123.5 L390.2,122.5 L390.4,121.5 L390.5,120.6 L390.6,120.0 L390.6,119.0 L390.7,118.0 L390.7,117.0 L390.8,116.0 L390.7,115.0 L390.7,114.0 L390.6,113.0 L390.6,112.0 L390.5,111.5 L390.4,110.5 L390.2,109.5 L390.1,108.5 L390.0,108.0 L389.7,107.0 L389.5,106.0 L389.4,105.5 L389.1,104.5 L389.0,104.0 L388.7,103.0 L388.5,102.5 L388.1,101.5 L388.0,101.0 L387.6,100.0 L387.4,99.5 L387.0,98.6 L386.7,98.0 L386.5,97.5 L386.0,96.5 L385.7,96.0 L385.5,95.5 L385.0,94.6 L384.6,94.0 L384.4,93.5 L384.0,92.9 L383.5,92.1 L383.1,91.5 L382.8,91.0 L382.4,90.5 L382.0,89.9 L381.5,89.2 L381.0,88.5 L380.6,88.0 L380.2,87.5 L379.9,87.0 L379.5,86.5 L379.0,86.0 L378.5,85.4 L378.0,84.8 L377.5,84.2 L377.0,83.7 L376.5,83.1 L376.0,82.6 L375.5,82.1 L375.0,81.5 L374.5,81.0 L374.0,80.5 L373.5,80.1 L373.0,79.6 L372.5,79.1 L372.0,78.6 L371.5,78.2 L371.0,77.7 L370.5,77.3 L370.0,76.9 L369.5,76.4 L369.0,76.0 L368.3,75.5 L367.7,75.0 L367.1,74.5 L366.5,74.0 L366.0,73.7 L365.5,73.3 L365.0,72.9 L364.4,72.5 L363.7,72.0 L363.0,71.5 L362.5,71.2 L362.0,70.9 L361.4,70.5 L360.6,70.0 L360.0,69.6 L359.5,69.3 L358.9,69.0 L358.0,68.5 L357.5,68.2 L357.0,68.0 L356.1,67.5 L355.5,67.2 L355.0,66.9 L354.1,66.5 L353.5,66.2 L353.0,66.0 L352.0,65.6 L351.5,65.4 L350.6,65.0 L350.0,64.8 L349.3,64.5 L348.5,64.2 L347.8,64.0 L347.0,63.7 L346.3,63.5 L345.5,63.3 L344.5,63.0 L344.0,62.9 L343.0,62.6 L342.5,62.5 L341.5,62.3 L340.5,62.1 L340.0,62.0 L339.0,61.8 L338.0,61.7 L337.0,61.6 L336.0,61.5 L335.5,61.5 L334.5,61.4 L333.5,61.4 L332.5,61.4 L331.5,61.4 L330.5,61.5" fill="none" stroke="#111" stroke-width="0.6"/>
<path d="M315.5,178.9 L315.0,179.1 L314.0,179.5 L313.5,179.7 L312.7,180.0 L312.0,180.3 L311.5,180.5 L310.5,181.0 L310.0,181.2 L309.4,181.5 L308.5,182.0 L308.0,182.3 L307.5,182.5 L306.8,183.0 L306.0,183.5 L305.5,183.8 L305.0,184.2 L304.5,184.6 L304.0,185.0 L303.4,185.5 L302.8,186.0 L302.3,186.5 L301.8,187.0 L301.3,187.5 L300.9,188.0 L300.5,188.5 L300.0,189.1 L299.5,189.8 L299.1,190.5 L298.7,191.0 L298.4,191.5 L298.0,192.3 L297.6,193.0 L297.4,193.5 L297.0,194.4 L296.7,195.0 L296.5,195.8 L296.4,196.5 L296.6,197.0 L297.2,197.5 L298.0,198.0 L298.5,198.2 L299.0,198.5 L299.9,199.0 L300.5,199.3 L301.0,199.6 L301.8,200.0 L302.5,200.3 L303.0,200.5 L304.0,201.0 L304.5,201.2 L305.4,201.5 L306.0,201.7 L307.0,202.0 L307.5,202.1 L308.5,202.3 L309.5,202.4 L310.2,202.5 L311.0,202.5 L312.0,202.5 L312.7,202.5 L313.5,202.4 L314.5,202.2 L315.1,202.0 L316.0,201.6 L316.5,201.2 L317.0,200.8 L317.5,200.2 L318.0,199.5 L318.3,199.0 L318.5,198.5 L318.9,197.5 L319.0,197.0 L319.3,196.0 L319.5,195.0 L319.5,194.5 L319.6,193.5 L319.7,192.5 L319.7,191.5 L319.7,190.5 L319.6,189.5 L319.5,188.7 L319.4,188.0 L319.2,187.0 L319.1,186.0 L319.0,185.5 L318.7,184.5 L318.5,183.6 L318.3,183.0 L318.1,182.0 L317.9,181.5 L317.6,180.5 L317.4,180.0 L317.1,179.0 L316.5,178.5 L315.5,178.9" fill="none" stroke="#111" stroke-width="0.6"/>
<path d="M303.5,38.0 L303.3,38.5 L303.0,39.3 L302.8,40.0 L302.6,41.0 L302.6,42.0 L302.7,43.0 L302.9,44.0 L303.0,44.5 L303.4,45.5 L303.7,46.0 L304.0,46.6 L304.5,47.3 L305.0,47.9 L305.5,48.4 L306.0,48.9 L306.5,49.3 L307.0,49.6 L307.5,50.0 L308.4,50.5 L309.0,50.9 L309.5,51.1 L310.4,51.5 L311.0,51.8 L311.7,52.0 L312.5,52.3 L313.3,52.5 L313.9,53.0 L313.6,54.0 L313.5,54.5 L313.2,55.5 L313.0,56.0 L312.7,57.0 L312.5,57.5 L312.1,58.5 L312.0,59.0 L311.6,60.0 L311.4,60.5 L311.0,61.5 L310.8,62.0 L310.5,62.9 L310.3,63.5 L310.0,64.2 L309.7,65.0 L309.5,65.5 L309.1,66.5 L308.9,67.0 L308.5,68.0 L308.3,68.5 L308.0,69.3 L307.7,70.0 L307.5,70.6 L307.1,71.5 L306.9,72.0 L306.6,73.0 L306.4,73.5 L306.0,74.5 L305.8,75.0 L305.5,75.8 L305.2,76.5 L305.0,77.1 L304.7,78.0 L304.5,78.5 L304.1,79.5 L303.9,80.0 L303.5,81.0 L303.4,81.5 L303.0,82.5 L302.8,83.0 L302.5,83.9 L302.3,84.5 L302.0,85.4 L301.8,86.0 L301.5,86.9 L301.3,87.5 L301.0,88.5 L300.8,89.0 L300.5,90.0 L300.4,90.5 L300.1,91.5 L300.0,92.0 L299.7,93.0 L299.5,93.8 L299.3,94.5 L299.1,95.5 L299.0,96.0 L298.8,97.0 L298.6,98.0 L298.5,98.5 L298.3,99.5 L298.1,100.5 L298.0,101.1 L297.9,102.0 L297.7,103.0 L297.6,104.0 L297.5,104.9 L297.4,105.5 L297.3,106.5 L297.3,107.5 L297.2,108.5 L297.1,109.5 L297.1,110.5 L297.1,111.5 L297.0,112.5 L297.0,113.5 L297.0,114.5 L297.0,115.5 L297.0,116.5 L297.1,117.5 L297.1,118.5 L297.1,119.5 L297.2,120.5 L297.2,121.5 L297.3,122.5 L297.4,123.5 L297.5,124.5 L297.5,125.0 L297.6,126.0 L297.7,127.0 L297.8,128.0 L297.9,129.0 L298.0,129.5 L298.1,130.5 L298.3,131.5 L298.4,132.5 L298.5,133.1 L298.6,134.0 L298.8,135.0 L299.0,136.0 L299.1,136.5 L299.3,137.5 L299.4,138.5 L299.5,139.0 L299.7,140.0 L299.9,141.0 L300.0,141.5 L300.3,142.5 L300.5,143.5 L300.6,144.0 L300.8,145.0 L301.0,145.7 L301.2,146.5 L301.4,147.5 L301.5,148.0 L301.8,149.0 L302.0,149.9 L302.2,150.5 L302.4,151.5 L302.5,152.0 L302.8,153.0 L303.0,153.8 L303.2,154.5 L303.4,155.5 L303.5,156.0 L303.8,157.0 L304.0,157.9 L304.1,158.5 L304.4,159.5 L304.5,160.2 L304.7,161.0 L304.9,162.0 L305.0,162.7 L305.1,163.5 L305.3,164.5 L305.4,165.5 L305.5,166.5 L305.5,167.0 L305.6,168.0 L305.6,169.0 L305.6,170.0 L305.5,170.7 L305.4,171.5 L305.2,172.5 L305.0,173.4 L304.8,174.0 L304.5,174.9 L304.3,175.5 L304.0,176.1 L303.5,177.0 L303.3,177.5 L303.0,178.0 L302.5,178.7 L302.0,179.5 L301.6,180.0 L301.3,180.5 L300.9,181.0 L300.5,181.5 L300.0,182.2 L299.5,182.8 L299.0,183.4 L298.5,184.0 L298.1,184.5 L297.7,185.0 L297.3,185.5 L296.8,186.0 L296.4,186.5 L295.9,187.0 L295.5,187.5 L295.0,188.0 L294.5,188.5 L293.9,189.0 L293.3,189.5 L292.6,190.0 L292.0,190.3 L291.5,190.6 L290.7,191.0 L290.0,191.3 L289.3,191.5 L288.5,191.7 L287.5,192.0 L287.0,192.1 L286.0,192.3 L285.3,192.5 L284.5,192.7 L283.5,192.9 L283.0,193.0 L282.0,193.2 L281.0,193.5 L280.5,193.6 L279.5,193.9 L279.0,194.1 L278.0,194.4 L277.5,194.5 L276.5,194.9 L276.0,195.1" fill="none" stroke="#111" stroke-width="1.1" stroke-dasharray="2.2,2.2"/>
<path d="M276.0,46.7 L277.0,46.8 L278.0,46.8 L279.0,46.8 L280.0,46.7 L280.8,46.5 L281.5,46.3 L282.4,46.0 L283.0,45.7 L283.5,45.5 L284.2,45.0 L284.7,44.5 L285.2,44.0 L285.5,43.5 L286.0,42.5 L286.2,42.0 L286.4,41.0 L286.5,40.0 L286.5,39.0 L286.4,38.0" fill="none" stroke="#111" stroke-width="1.1" stroke-dasharray="2.2,2.2"/>
<path d="M416.0,201.4 L415.0,201.2 L414.1,201.0 L413.5,200.9 L412.5,200.8 L411.5,200.7 L410.5,200.7 L409.5,200.7 L408.5,200.8 L407.5,200.9 L407.0,201.0 L406.0,201.3 L405.4,201.5 L404.5,201.9 L404.0,202.1 L403.3,202.5 L402.6,203.0 L402.0,203.5 L401.5,203.9 L401.0,204.4 L400.5,205.0 L400.1,205.5 L399.8,206.0 L399.5,206.5 L399.0,207.5 L398.8,208.0 L398.5,208.8 L398.3,209.5 L398.0,210.5 L397.9,211.0 L397.8,212.0 L397.7,213.0 L397.6,214.0 L397.6,215.0 L397.7,216.0" fill="none" stroke="#111" stroke-width="1.1" stroke-dasharray="2.2,2.2"/>
<path d="M287.3,216.0 L287.6,215.5 L288.0,214.8 L288.5,214.0 L288.8,213.5 L289.1,213.0 L289.5,212.4 L290.0,211.6 L290.4,211.0 L290.7,210.5 L291.0,210.0 L291.5,209.3 L292.0,208.5 L292.4,208.0 L292.7,207.5 L293.1,207.0 L293.5,206.5 L294.0,205.9 L294.5,205.3 L295.0,204.8 L295.5,204.4 L296.0,204.0 L296.9,203.5 L297.5,203.2 L298.2,203.0 L299.0,202.9 L300.0,202.8 L301.0,202.9 L301.8,203.0 L302.5,203.1 L303.5,203.4 L304.0,203.5 L305.0,203.8 L305.8,204.0 L306.5,204.2 L307.5,204.5 L308.0,204.6 L309.0,205.0 L309.5,205.1 L310.5,205.5 L311.0,205.7 L311.7,206.0 L312.5,206.4 L313.0,206.7 L313.5,207.1 L314.0,207.6 L314.5,208.2 L315.0,209.0 L315.2,209.5 L315.4,210.5 L315.4,211.5 L315.4,212.5 L315.3,213.5 L315.2,214.5 L315.0,215.4 L314.9,216.0" fill="none" stroke="#111" stroke-width="1.1" stroke-dasharray="2.2,2.2"/>
<path d="M334.4,216.0 L334.0,215.4 L333.5,214.7 L333.0,214.1 L332.6,213.5 L332.2,213.0 L331.8,212.5 L331.3,212.0 L330.9,211.5 L330.5,211.0 L330.0,210.4 L329.5,209.9 L329.0,209.3 L328.5,208.8 L328.0,208.2 L327.5,207.6 L327.0,207.0 L326.6,206.5 L326.2,206.0 L325.9,205.5 L325.5,204.8 L325.1,204.0 L324.9,203.5 L324.7,202.5 L324.5,201.5 L324.5,201.0 L324.5,200.0 L324.5,199.3 L324.5,198.5 L324.6,197.5 L324.8,196.5 L324.9,195.5 L325.0,194.8 L325.1,194.0 L325.3,193.0 L325.5,192.0 L325.6,191.5 L325.8,190.5 L326.0,189.9 L326.3,189.0 L326.5,188.3 L326.8,187.5 L327.0,187.0 L327.5,186.0 L327.7,185.5 L328.0,185.0 L328.5,184.3 L329.0,183.6 L329.5,183.0 L329.9,182.5 L330.4,182.0 L330.9,181.5 L331.5,181.0 L332.0,180.6 L332.5,180.2 L333.0,179.8 L333.5,179.4 L334.1,179.0 L334.9,178.5 L335.5,178.1 L336.0,177.8 L336.6,177.5 L337.5,177.0 L338.0,176.7 L338.5,176.5 L339.4,176.0 L340.0,175.7 L340.5,175.5 L341.4,175.0 L342.0,174.7 L342.5,174.5 L343.5,174.0 L344.0,173.8 L344.7,173.5 L345.5,173.1 L346.0,172.9 L346.9,172.5 L347.5,172.2 L348.0,172.0 L349.0,171.6 L349.5,171.4 L350.3,171.0 L351.0,170.7 L351.5,170.4 L352.5,170.0 L353.0,169.8 L353.6,169.5 L354.5,169.1 L355.0,168.8 L355.6,168.5 L356.5,168.1 L357.0,167.8 L357.6,167.5 L358.5,167.1 L359.0,166.8 L359.5,166.5 L360.4,166.0 L361.0,165.7 L361.5,165.4 L362.2,165.0 L363.0,164.5 L363.5,164.2 L364.0,163.9 L364.6,163.5 L365.4,163.0 L366.0,162.6 L366.5,162.2 L367.0,161.9 L367.5,161.5 L368.2,161.0 L368.8,160.5 L369.5,160.0 L370.0,159.6 L370.5,159.2 L371.0,158.8 L371.5,158.3 L372.0,157.9 L372.5,157.4 L373.0,157.0 L373.5,156.5 L374.0,156.0 L374.6,155.5 L375.1,155.0 L375.5,154.5 L376.0,154.0 L376.5,153.5 L377.0,152.9 L377.5,152.4 L378.0,151.8 L378.5,151.2 L379.0,150.7 L379.5,150.0 L379.9,149.5 L380.3,149.0 L380.7,148.5 L381.1,148.0 L381.5,147.5 L382.0,146.8 L382.5,146.1 L382.9,145.5 L383.3,145.0 L383.6,144.5 L384.0,144.0 L384.5,143.2 L384.9,142.5 L385.3,142.0 L385.6,141.5 L386.0,140.8 L386.5,140.0 L386.8,139.5 L387.0,139.0 L387.5,138.2 L387.9,137.5 L388.1,137.0 L388.5,136.3 L388.9,135.5 L389.1,135.0 L389.5,134.2 L389.8,133.5 L390.0,133.0 L390.4,132.0 L390.6,131.5 L391.0,130.5 L391.2,130.0 L391.5,129.1 L391.7,128.5 L392.0,127.5 L392.1,127.0 L392.4,126.0 L392.5,125.5 L392.8,124.5 L393.0,123.5 L393.1,123.0 L393.2,122.0 L393.4,121.0 L393.5,120.0 L393.5,119.5 L393.6,118.5 L393.6,117.5 L393.6,116.5 L393.6,115.5 L393.6,114.5 L393.6,113.5 L393.5,112.6 L393.4,112.0 L393.3,111.0 L393.2,110.0 L393.0,109.0 L393.0,108.5 L392.8,107.5 L392.6,106.5 L392.4,106.0 L392.2,105.0 L392.0,104.3 L391.8,103.5 L391.5,102.6 L391.3,102.0 L391.0,101.1 L390.8,100.5 L390.5,99.7 L390.2,99.0 L390.0,98.5 L389.6,97.5 L389.3,97.0 L389.0,96.3 L388.6,95.5 L388.4,95.0 L388.0,94.3 L387.6,93.5 L387.3,93.0 L387.0,92.5 L386.5,91.7 L386.1,91.0 L385.8,90.5 L385.4,90.0 L385.0,89.3 L384.5,88.6 L384.1,88.0 L383.7,87.5 L383.3,87.0 L382.9,86.5 L382.5,85.9 L382.0,85.3 L381.5,84.7 L381.0,84.1 L380.5,83.5 L380.1,83.0 L379.7,82.5 L379.2,82.0 L378.8,81.5 L378.3,81.0 L377.8,80.5 L377.4,80.0 L376.9,79.5 L376.4,79.0 L375.9,78.5 L375.4,78.0 L374.9,77.5 L374.4,77.0 L373.9,76.5 L373.3,76.0 L372.8,75.5 L372.3,75.0 L371.7,74.5 L371.1,74.0 L370.6,73.5 L370.0,73.0 L369.5,72.6 L369.0,72.2 L368.5,71.7 L368.0,71.3 L367.5,70.9 L367.0,70.5 L366.3,70.0 L365.7,69.5 L365.0,69.0 L364.5,68.6 L364.0,68.3 L363.5,67.9 L362.9,67.5 L362.2,67.0 L361.5,66.6 L361.0,66.2 L360.5,65.9 L359.9,65.5 L359.0,65.0 L358.5,64.7 L358.0,64.4 L357.4,64.0 L356.5,63.5 L356.0,63.2 L355.5,63.0 L354.6,62.5 L354.0,62.2 L353.5,61.9 L352.7,61.5 L352.0,61.2 L351.5,60.9 L350.6,60.5 L350.0,60.2 L349.5,60.0 L348.5,59.6 L348.0,59.4 L347.1,59.0 L346.5,58.8 L345.8,58.5 L345.0,58.2 L344.5,58.0 L343.5,57.7 L343.0,57.5 L342.0,57.2 L341.5,57.0 L340.5,56.7 L339.7,56.5 L339.0,56.3 L338.0,56.1 L337.5,55.9 L336.5,55.7 L335.5,55.5 L335.0,55.4 L334.0,55.2 L333.0,55.1 L332.4,55.0 L331.5,54.9 L330.5,54.8 L329.5,54.7 L328.5,54.6 L327.8,54.5 L327.0,54.4 L326.0,54.3 L325.0,54.3 L324.0,54.2 L323.0,54.1 L322.0,54.0 L321.5,54.0 L320.5,53.9 L319.5,53.7 L318.5,53.6 L317.8,53.5 L317.0,53.4 L316.0,53.2 L315.1,53.0 L314.5,52.8 L314.1,52.0 L314.4,51.0 L314.5,50.4 L314.7,49.5 L314.8,48.5 L314.9,47.5 L315.0,46.5 L315.0,45.5 L314.9,44.5 L314.8,43.5 L314.7,42.5 L314.5,41.8 L314.3,41.0 L314.0,40.2 L313.7,39.5 L313.4,39.0 L313.0,38.3" fill="none" stroke="#111" stroke-width="1.1" stroke-dasharray="2.2,2.2"/>
</g>
<path d="M313.7,51.9 C308,49 303,47 300.8,45.4 C300.5,43.5 301.8,42.5 303.5,41" fill="none" stroke="#111" stroke-width="1.15" stroke-dasharray="2.3,2"/>
<path d="M314.6,51 C315.6,47 316.2,44 316.8,41" fill="none" stroke="#111" stroke-width="1.15" stroke-dasharray="2.3,2"/>
<path d="M302.30,184.20C301.30,184.68 297.92,186.00 296.30,187.10C294.68,188.20 293.08,189.43 292.60,190.80C292.12,192.17 292.53,193.82 293.40,195.30C294.27,196.78 295.58,198.22 297.80,199.70C300.02,201.18 303.98,203.08 306.70,204.20C309.42,205.32 311.87,206.40 314.10,206.40C316.33,206.40 318.48,205.55 320.10,204.20C321.72,202.85 323.02,200.15 323.80,198.30C324.58,196.45 324.63,193.97 324.80,193.10" fill="none" stroke="#222" stroke-width="1.1" stroke-dasharray="1.7,1.9"/>
<path d="M303.70,185.20C302.83,185.65 299.98,186.92 298.50,187.90C297.02,188.88 295.28,189.87 294.80,191.10C294.32,192.33 294.85,193.98 295.60,195.30C296.35,196.62 296.95,197.65 299.30,199.00C301.65,200.35 306.85,202.48 309.70,203.40C312.55,204.32 314.67,204.87 316.40,204.50C318.13,204.13 319.32,202.73 320.10,201.20C320.88,199.67 320.98,196.83 321.10,195.30C321.22,193.77 320.85,192.55 320.80,192.00" fill="none" stroke="#222" stroke-width="0.6"/>
<path d="M339.8,188.2 H369.5 V189.3 H362 V191.1 H359.1 V204.5 H360.3 V213.5 H352.4 V204.5 H352.9 V191.1 H339.8 Z" fill="#fff"/>
<path d="M332.4,186.1 H371.7 V188.3 H332.4 Z" fill="#b4b4b4"/>
<path d="M332.4,186.2 H371.7" stroke="#5a5a5a" stroke-width="0.9" fill="none"/>
<path d="M285.0,176.7 L282.4,165.3 L280.3,153.0 L279.1,142.0 L278.3,130.0 L278.0,120.0 L278.3,108.0 L279.2,96.0 L280.6,84.0 L282.2,73.0 L284.2,62.8 L338.6,41.0 L340.2,45.7 L370.3,45.7 L372.8,42.4 L376.2,43.4 L379.6,44.6 L382.9,46.0 L386.1,47.6 L389.2,49.4 L392.1,51.4 L394.9,53.6 L397.6,56.0 L400.1,58.5 L402.5,61.2 L404.6,64.1 L406.6,67.0 L408.4,70.1 L410.0,73.3 L411.3,76.6 L412.5,80.0" fill="none" stroke="#0a0a0a" stroke-width="1.6" stroke-linejoin="miter"/>
<path d="M412.5,80.0 L400.5,80.0 L394.6,74.2 L388.0,74.2 L390.3,77.6 L392.4,81.0 L394.4,84.6 L396.1,88.3 L397.7,92.1 L399.0,95.9 L400.2,99.8 L401.1,103.8 L401.8,107.8 L402.4,111.9 L402.7,115.9 L402.8,120.0 L402.7,124.1 L402.4,128.1 L401.8,132.2 L401.1,136.2 L400.2,140.2 L399.0,144.1 L397.7,147.9 L396.1,151.7 L394.4,155.4 L392.4,159.0 L390.3,162.4 L388.0,165.8 L394.6,165.8 L400.5,161.0 L412.5,161.0" fill="none" stroke="#0a0a0a" stroke-width="1.2"/>
<path d="M412.5,161.0 L410.6,163.9 L408.7,166.7 L406.7,169.5 L404.6,172.2 L402.4,174.8 L400.1,177.4 L397.8,179.9 L395.4,182.4 L392.9,184.8 L390.4,187.1 L387.8,189.3 L385.1,191.5 L382.4,193.5 L379.6,195.5 L376.8,197.5 L373.9,199.3" fill="none" stroke="#0a0a0a" stroke-width="1.3"/>
<path d="M285,176.7 L336.9,199" fill="none" stroke="#0a0a0a" stroke-width="1.3"/>
<path d="M360.3,209 L373.9,205 L373.9,199.3" fill="none" stroke="#0a0a0a" stroke-width="0.9"/>
</g>
<rect x="278.5" y="41.5" width="134.3" height="171.5" fill="none" stroke="#9a9a9a" stroke-width="0.7"/>
<path d="M278.5,41.5 V213.0 H412.8" fill="none" stroke="#555" stroke-width="0.8"/>
<path d="M278.5,60.8 h1.6 M412.8,60.8 h-1.6" stroke="#555" stroke-width="0.6"/>
<text x="275.5" y="64.6" font-size="10" text-anchor="end" fill="#222">0.6</text>
<path d="M278.5,80.5 h1.6 M412.8,80.5 h-1.6" stroke="#555" stroke-width="0.6"/>
<text x="275.5" y="84.3" font-size="10" text-anchor="end" fill="#222">0.4</text>
<path d="M278.5,100.3 h1.6 M412.8,100.3 h-1.6" stroke="#555" stroke-width="0.6"/>
<text x="275.5" y="104.1" font-size="10" text-anchor="end" fill="#222">0.2</text>
<path d="M278.5,120.0 h1.6 M412.8,120.0 h-1.6" stroke="#555" stroke-width="0.6"/>
<text x="275.5" y="123.8" font-size="10" text-anchor="end" fill="#222">0</text>
<path d="M278.5,139.7 h1.6 M412.8,139.7 h-1.6" stroke="#555" stroke-width="0.6"/>
<text x="275.5" y="143.5" font-size="10" text-anchor="end" fill="#222">-0.2</text>
<path d="M278.5,159.5 h1.6 M412.8,159.5 h-1.6" stroke="#555" stroke-width="0.6"/>
<text x="275.5" y="163.3" font-size="10" text-anchor="end" fill="#222">-0.4</text>
<path d="M278.5,179.2 h1.6 M412.8,179.2 h-1.6" stroke="#555" stroke-width="0.6"/>
<text x="275.5" y="183.0" font-size="10" text-anchor="end" fill="#222">-0.6</text>
<path d="M278.5,199.0 h1.6 M412.8,199.0 h-1.6" stroke="#555" stroke-width="0.6"/>
<text x="275.5" y="202.8" font-size="10" text-anchor="end" fill="#222">-0.8</text>
<path d="M294.7,213.0 v-1.6 M294.7,41.5 v1.6" stroke="#555" stroke-width="0.6"/>
<text x="294.7" y="226.3" font-size="10" text-anchor="middle" fill="#222">2</text>
<path d="M343.7,213.0 v-1.6 M343.7,41.5 v1.6" stroke="#555" stroke-width="0.6"/>
<text x="343.7" y="226.3" font-size="10" text-anchor="middle" fill="#222">2.5</text>
<path d="M392.7,213.0 v-1.6 M392.7,41.5 v1.6" stroke="#555" stroke-width="0.6"/>
<text x="392.7" y="226.3" font-size="10" text-anchor="middle" fill="#222">3</text>
<text x="345.9" y="239.8" font-size="12.3" text-anchor="middle" fill="#222">R (m)</text>
<text transform="translate(251.6,125.8) rotate(-90)" font-size="11.9" text-anchor="middle" fill="#222">Z (m)</text>
<text x="396" y="206.2" font-size="11.5" font-weight="bold" fill="#111">a)</text>
<defs><linearGradient id="cbg" x1="0" y1="0" x2="0" y2="1"><stop offset="0.0000" stop-color="#7a1a1e"/><stop offset="0.0208" stop-color="#881b20"/><stop offset="0.0417" stop-color="#951c23"/><stop offset="0.0625" stop-color="#a21d26"/><stop offset="0.0833" stop-color="#b01e28"/><stop offset="0.1042" stop-color="#ba2028"/><stop offset="0.1250" stop-color="#c42229"/><stop offset="0.1458" stop-color="#ce242a"/><stop offset="0.1667" stop-color="#d8262a"/><stop offset="0.1875" stop-color="#dc332a"/><stop offset="0.2083" stop-color="#e04029"/><stop offset="0.2292" stop-color="#e34d28"/><stop offset="0.2500" stop-color="#e75a28"/><stop offset="0.2708" stop-color="#e96728"/><stop offset="0.2917" stop-color="#ec7429"/><stop offset="0.3125" stop-color="#ee812a"/><stop offset="0.3333" stop-color="#f08e2a"/><stop offset="0.3542" stop-color="#f4a32c"/><stop offset="0.3750" stop-color="#f8b72e"/><stop offset="0.3958" stop-color="#f9ca30"/><stop offset="0.4167" stop-color="#fadc32"/><stop offset="0.4375" stop-color="#f5e236"/><stop offset="0.4583" stop-color="#f0e83a"/><stop offset="0.4792" stop-color="#e2e548"/><stop offset="0.5000" stop-color="#d2e258"/><stop offset="0.5208" stop-color="#bfdd72"/><stop offset="0.5417" stop-color="#acd88c"/><stop offset="0.5625" stop-color="#9cd3a4"/><stop offset="0.5833" stop-color="#8ccebb"/><stop offset="0.6042" stop-color="#7ec9cf"/><stop offset="0.6250" stop-color="#76c5d7"/><stop offset="0.6458" stop-color="#6ec0e0"/><stop offset="0.6667" stop-color="#66bce9"/><stop offset="0.6875" stop-color="#5eb2e6"/><stop offset="0.7083" stop-color="#57a7e2"/><stop offset="0.7292" stop-color="#509cdf"/><stop offset="0.7500" stop-color="#4892dc"/><stop offset="0.7708" stop-color="#4588d6"/><stop offset="0.7917" stop-color="#427ed0"/><stop offset="0.8125" stop-color="#3f74ca"/><stop offset="0.8333" stop-color="#3c6ac4"/><stop offset="0.8542" stop-color="#3a62bc"/><stop offset="0.8750" stop-color="#385ab4"/><stop offset="0.8958" stop-color="#3652ad"/><stop offset="0.9167" stop-color="#344aa5"/><stop offset="0.9375" stop-color="#32469f"/><stop offset="0.9583" stop-color="#31419a"/><stop offset="0.9792" stop-color="#303c94"/><stop offset="1.0000" stop-color="#2e388e"/></linearGradient></defs>
<rect x="417.3" y="42.7" width="11.4" height="169.9" fill="url(#cbg)"/>
<text x="431.8" y="45.9" font-size="9.3" fill="#222">18.5</text>
<text x="431.8" y="74.2" font-size="9.3" fill="#222">18</text>
<text x="431.8" y="102.5" font-size="9.3" fill="#222">17.5</text>
<text x="431.8" y="130.8" font-size="9.3" fill="#222">17</text>
<text x="431.8" y="159.2" font-size="9.3" fill="#222">16.5</text>
<text x="431.8" y="187.5" font-size="9.3" fill="#222">16</text>
<text x="431.8" y="215.8" font-size="9.3" fill="#222">15.5</text>
</g>
<g id="panel-c">
<text x="583.5" y="13.2" font-size="14.5" font-weight="bold" text-anchor="middle" fill="#111">c)</text>
<text x="598.2" y="34.6" font-size="14.1" text-anchor="middle" fill="#111">OIII 610.4A + OIV 609.8A</text>
<line x1="546.0" y1="41.8" x2="546.0" y2="207.2" stroke="#e6e6e6" stroke-width="0.7"/>
<line x1="648.5" y1="41.8" x2="648.5" y2="207.2" stroke="#e6e6e6" stroke-width="0.7"/>
<line x1="494.7" y1="96.9" x2="699.7" y2="96.9" stroke="#e6e6e6" stroke-width="0.7"/>
<line x1="494.7" y1="124.5" x2="699.7" y2="124.5" stroke="#e6e6e6" stroke-width="0.7"/>
<rect x="494.7" y="41.8" width="205.0" height="165.4" fill="none" stroke="#c4c4c4" stroke-width="0.8"/>
<path d="M494.7,207.2 H699.7" fill="none" stroke="#555" stroke-width="0.9"/>
<path d="M494.7,41.8 h2 M699.7,41.8 h-2" stroke="#b8b8b8" stroke-width="0.6"/>
<text x="492" y="45.7" font-size="9.5" text-anchor="end" fill="#222">1.2</text>
<path d="M494.7,69.4 h2 M699.7,69.4 h-2" stroke="#b8b8b8" stroke-width="0.6"/>
<text x="492" y="73.3" font-size="9.5" text-anchor="end" fill="#222">1</text>
<path d="M494.7,96.9 h2 M699.7,96.9 h-2" stroke="#b8b8b8" stroke-width="0.6"/>
<text x="492" y="100.8" font-size="9.5" text-anchor="end" fill="#222">0.8</text>
<path d="M494.7,124.5 h2 M699.7,124.5 h-2" stroke="#b8b8b8" stroke-width="0.6"/>
<text x="492" y="128.4" font-size="9.5" text-anchor="end" fill="#222">0.6</text>
<path d="M494.7,152.1 h2 M699.7,152.1 h-2" stroke="#b8b8b8" stroke-width="0.6"/>
<text x="492" y="156.0" font-size="9.5" text-anchor="end" fill="#222">0.4</text>
<path d="M494.7,179.6 h2 M699.7,179.6 h-2" stroke="#b8b8b8" stroke-width="0.6"/>
<text x="492" y="183.5" font-size="9.5" text-anchor="end" fill="#222">0.2</text>
<path d="M494.7,207.2 h2 M699.7,207.2 h-2" stroke="#b8b8b8" stroke-width="0.6"/>
<text x="492" y="211.1" font-size="9.5" text-anchor="end" fill="#222">0</text>
<path d="M494.7,207.2 v-2.2" stroke="#4a4a4a" stroke-width="0.7"/>
<text x="494.7" y="220.3" font-size="9.5" text-anchor="middle" fill="#222">18</text>
<path d="M546.0,207.2 v-2.2" stroke="#4a4a4a" stroke-width="0.7"/>
<text x="546.0" y="220.3" font-size="9.5" text-anchor="middle" fill="#222">20</text>
<path d="M597.2,207.2 v-2.2" stroke="#4a4a4a" stroke-width="0.7"/>
<text x="597.2" y="220.3" font-size="9.5" text-anchor="middle" fill="#222">22</text>
<path d="M648.5,207.2 v-2.2" stroke="#4a4a4a" stroke-width="0.7"/>
<text x="648.5" y="220.3" font-size="9.5" text-anchor="middle" fill="#222">24</text>
<path d="M699.7,207.2 v-2.2" stroke="#4a4a4a" stroke-width="0.7"/>
<text x="699.7" y="220.3" font-size="9.5" text-anchor="middle" fill="#222">26</text>
<text x="596.8" y="232.8" font-size="11.8" text-anchor="middle" fill="#222">alpha (deg)</text>
<text transform="translate(474.3,124.5) rotate(-90)" font-size="10.9" text-anchor="middle" fill="#222">Normalized Brightness</text>
<clipPath id="cclip"><rect x="494.7" y="41.8" width="205.0" height="165.4"/></clipPath>
<g fill="none" stroke="#cf2a3a" stroke-width="0.8">
<rect x="568.0" y="112.8" width="3.3" height="3.3"/>
<rect x="568.0" y="111.2" width="3.3" height="3.3"/>
<rect x="568.1" y="109.6" width="3.3" height="3.3"/>
<rect x="568.1" y="108.0" width="3.3" height="3.3"/>
<rect x="568.2" y="106.4" width="3.3" height="3.3"/>
<rect x="568.2" y="104.8" width="3.3" height="3.3"/>
<rect x="568.3" y="103.2" width="3.3" height="3.3"/>
<rect x="568.3" y="101.6" width="3.3" height="3.3"/>
<rect x="568.4" y="100.0" width="3.3" height="3.3"/>
<rect x="568.5" y="98.4" width="3.3" height="3.3"/>
<rect x="568.6" y="96.8" width="3.3" height="3.3"/>
<rect x="568.7" y="95.2" width="3.3" height="3.3"/>
<rect x="568.8" y="93.6" width="3.3" height="3.3"/>
<rect x="569.0" y="92.0" width="3.3" height="3.3"/>
<rect x="569.2" y="90.4" width="3.3" height="3.3"/>
<rect x="569.4" y="88.8" width="3.3" height="3.3"/>
<rect x="569.6" y="87.2" width="3.3" height="3.3"/>
<rect x="569.7" y="85.6" width="3.3" height="3.3"/>
<rect x="569.9" y="84.0" width="3.3" height="3.3"/>
<rect x="570.2" y="82.5" width="3.3" height="3.3"/>
<rect x="570.6" y="80.9" width="3.3" height="3.3"/>
<rect x="570.9" y="79.3" width="3.3" height="3.3"/>
<rect x="571.3" y="77.8" width="3.3" height="3.3"/>
<rect x="571.6" y="76.2" width="3.3" height="3.3"/>
<rect x="572.1" y="74.7" width="3.3" height="3.3"/>
<rect x="572.7" y="73.2" width="3.3" height="3.3"/>
<rect x="573.2" y="71.7" width="3.3" height="3.3"/>
<rect x="573.8" y="70.2" width="3.3" height="3.3"/>
<rect x="574.6" y="68.8" width="3.3" height="3.3"/>
<rect x="575.5" y="67.5" width="3.3" height="3.3"/>
<rect x="576.7" y="66.5" width="3.3" height="3.3"/>
<rect x="578.1" y="66.3" width="3.3" height="3.3"/>
<rect x="579.3" y="67.3" width="3.3" height="3.3"/>
<rect x="580.0" y="68.7" width="3.3" height="3.3"/>
<rect x="581.9" y="74.0" width="3.3" height="3.3"/>
<rect x="583.3" y="79.4" width="3.3" height="3.3"/>
<rect x="584.5" y="84.9" width="3.3" height="3.3"/>
<rect x="585.8" y="90.3" width="3.3" height="3.3"/>
<rect x="587.1" y="95.8" width="3.3" height="3.3"/>
<rect x="588.1" y="101.3" width="3.3" height="3.3"/>
<rect x="589.3" y="106.7" width="3.3" height="3.3"/>
<rect x="590.4" y="112.2" width="3.3" height="3.3"/>
<rect x="591.8" y="117.7" width="3.3" height="3.3"/>
<rect x="593.5" y="123.0" width="3.3" height="3.3"/>
<rect x="594.6" y="125.4" width="3.3" height="3.3"/>
<rect x="595.9" y="127.6" width="3.3" height="3.3"/>
<rect x="597.7" y="129.3" width="3.3" height="3.3"/>
<rect x="600.2" y="129.7" width="3.3" height="3.3"/>
<rect x="601.9" y="129.5" width="3.3" height="3.3"/>
<rect x="603.2" y="128.5" width="3.3" height="3.3"/>
<rect x="604.5" y="127.4" width="3.3" height="3.3"/>
<rect x="606.0" y="126.5" width="3.3" height="3.3"/>
<rect x="607.5" y="125.7" width="3.3" height="3.3"/>
<rect x="609.1" y="125.5" width="3.3" height="3.3"/>
<rect x="610.8" y="125.7" width="3.3" height="3.3"/>
<rect x="612.3" y="126.3" width="3.3" height="3.3"/>
<rect x="613.8" y="127.2" width="3.3" height="3.3"/>
<rect x="615.1" y="128.2" width="3.3" height="3.3"/>
<rect x="616.2" y="129.5" width="3.3" height="3.3"/>
<rect x="617.3" y="130.8" width="3.3" height="3.3"/>
<rect x="618.0" y="132.3" width="3.3" height="3.3"/>
<rect x="618.8" y="133.8" width="3.3" height="3.3"/>
<rect x="619.5" y="135.4" width="3.3" height="3.3"/>
<rect x="620.3" y="136.8" width="3.3" height="3.3"/>
<rect x="621.2" y="138.3" width="3.3" height="3.3"/>
<rect x="622.1" y="139.8" width="3.3" height="3.3"/>
<rect x="623.0" y="141.2" width="3.3" height="3.3"/>
<rect x="623.8" y="142.7" width="3.3" height="3.3"/>
<rect x="625.0" y="143.9" width="3.3" height="3.3"/>
<rect x="626.2" y="145.1" width="3.3" height="3.3"/>
<rect x="627.4" y="146.3" width="3.3" height="3.3"/>
<rect x="628.7" y="147.4" width="3.3" height="3.3"/>
<rect x="630.2" y="148.3" width="3.3" height="3.3"/>
<rect x="631.6" y="149.1" width="3.3" height="3.3"/>
<rect x="633.2" y="149.7" width="3.3" height="3.3"/>
<rect x="634.9" y="150.1" width="3.3" height="3.3"/>
<rect x="636.5" y="150.4" width="3.3" height="3.3"/>
<rect x="638.1" y="149.9" width="3.3" height="3.3"/>
<rect x="639.7" y="149.3" width="3.3" height="3.3"/>
<rect x="641.3" y="148.6" width="3.3" height="3.3"/>
<rect x="642.7" y="147.7" width="3.3" height="3.3"/>
<rect x="644.1" y="146.8" width="3.3" height="3.3"/>
<rect x="645.6" y="145.9" width="3.3" height="3.3"/>
<rect x="647.1" y="145.1" width="3.3" height="3.3"/>
<rect x="648.6" y="144.8" width="3.3" height="3.3"/>
<rect x="649.9" y="145.9" width="3.3" height="3.3"/>
<rect x="650.6" y="149.7" width="3.3" height="3.3"/>
<rect x="651.1" y="153.7" width="3.3" height="3.3"/>
<rect x="651.8" y="157.6" width="3.3" height="3.3"/>
<rect x="653.2" y="161.2" width="3.3" height="3.3"/>
<rect x="656.0" y="164.0" width="3.3" height="3.3"/>
<rect x="657.1" y="165.1" width="3.3" height="3.3"/>
<rect x="658.1" y="166.1" width="3.3" height="3.3"/>
<rect x="658.7" y="167.5" width="3.3" height="3.3"/>
<rect x="659.1" y="168.9" width="3.3" height="3.3"/>
<rect x="659.6" y="170.4" width="3.3" height="3.3"/>
<rect x="660.0" y="171.8" width="3.3" height="3.3"/>
<rect x="660.4" y="173.3" width="3.3" height="3.3"/>
<rect x="660.8" y="174.7" width="3.3" height="3.3"/>
<rect x="661.2" y="176.2" width="3.3" height="3.3"/>
<rect x="661.3" y="177.6" width="3.3" height="3.3"/>
<rect x="661.4" y="179.1" width="3.3" height="3.3"/>
</g>
<g clip-path="url(#cclip)" fill="none" stroke="#2f3ea8" stroke-width="1.9" stroke-linecap="round" stroke-linejoin="round">
<path d="M494.70,171.30C495.58,170.05 498.00,166.17 500.00,163.80C502.00,161.43 504.18,158.87 506.70,157.10C509.22,155.33 512.87,153.88 515.10,153.20C517.33,152.52 518.28,152.87 520.10,153.00C521.92,153.13 524.33,153.97 526.00,154.00C527.67,154.03 528.57,153.93 530.10,153.20C531.63,152.47 533.52,151.47 535.20,149.60C536.88,147.73 538.82,144.30 540.20,142.00C541.58,139.70 542.53,137.55 543.50,135.80C544.47,134.05 544.60,133.22 546.00,131.50C547.40,129.78 550.08,126.68 551.90,125.50C553.72,124.32 555.52,124.95 556.90,124.40C558.28,123.85 559.10,123.35 560.20,122.20C561.30,121.05 562.47,119.28 563.50,117.50C564.53,115.72 565.58,113.20 566.40,111.50C567.22,109.80 567.68,109.55 568.40,107.30C569.12,105.05 569.87,101.88 570.70,98.00C571.53,94.12 572.62,87.58 573.40,84.00C574.18,80.42 574.77,78.57 575.40,76.50C576.03,74.43 576.65,72.75 577.20,71.60C577.75,70.45 578.22,69.60 578.70,69.60C579.18,69.60 579.65,70.42 580.10,71.60C580.55,72.78 580.95,74.63 581.40,76.70C581.85,78.77 582.33,81.28 582.80,84.00C583.27,86.72 583.73,89.92 584.20,93.00C584.67,96.08 585.25,100.12 585.60,102.50C585.95,104.88 585.98,105.05 586.30,107.30C586.62,109.55 587.02,111.55 587.50,116.00C587.98,120.45 588.50,127.00 589.20,134.00C589.90,141.00 590.98,151.92 591.70,158.00C592.42,164.08 592.95,167.25 593.50,170.50C594.05,173.75 594.75,176.33 595.00,177.50"/>
<path d="M595.00,177.50C595.27,176.33 595.98,173.25 596.60,170.50C597.22,167.75 597.88,164.75 598.70,161.00C599.52,157.25 600.50,152.28 601.50,148.00C602.50,143.72 603.47,139.08 604.70,135.30C605.93,131.52 607.65,127.82 608.90,125.30C610.15,122.78 611.65,121.05 612.20,120.20"/>
<path d="M612.20,120.20C612.63,120.63 614.37,122.37 614.80,122.80"/>
<path d="M614.80,122.80C615.90,122.18 619.18,119.95 621.40,119.10C623.62,118.25 625.58,117.65 628.10,117.70C630.62,117.75 633.98,118.55 636.50,119.40C639.02,120.25 641.25,121.55 643.20,122.80C645.15,124.05 646.67,125.37 648.20,126.90C649.73,128.43 651.00,129.75 652.40,132.00C653.80,134.25 655.33,137.05 656.60,140.40C657.87,143.75 658.68,147.25 660.00,152.10C661.32,156.95 663.13,164.35 664.50,169.50C665.87,174.65 667.02,179.35 668.20,183.00C669.38,186.65 670.48,189.53 671.60,191.40C672.72,193.27 673.33,193.63 674.90,194.20C676.47,194.77 678.77,194.72 681.00,194.80C683.23,194.88 685.18,194.85 688.30,194.70C691.42,194.55 697.80,194.03 699.70,193.90"/>
</g>
<text x="559.3" y="58.3" font-size="14" fill="#111">ISP</text>
<text x="606.8" y="88.5" font-size="14" fill="#111">OSP</text>
<text x="584.3" y="152.2" font-size="13.6" fill="#111">PFR</text>
<rect x="653.7" y="46.5" width="42.1" height="23" fill="#fff" stroke="#8a8a8a" stroke-width="0.8"/>
<rect x="660.1" y="51.3" width="3.3" height="3.3" fill="none" stroke="#cf2a3a" stroke-width="0.8"/>
<line x1="655.3" y1="63.3" x2="669" y2="63.3" stroke="#2f3ea8" stroke-width="1.7"/>
<text x="671" y="56.4" font-size="8.5" fill="#222">VUV</text>
<text x="671" y="66.5" font-size="8.5" fill="#222">S2DE</text>
</g>
</svg>
</body></html>
